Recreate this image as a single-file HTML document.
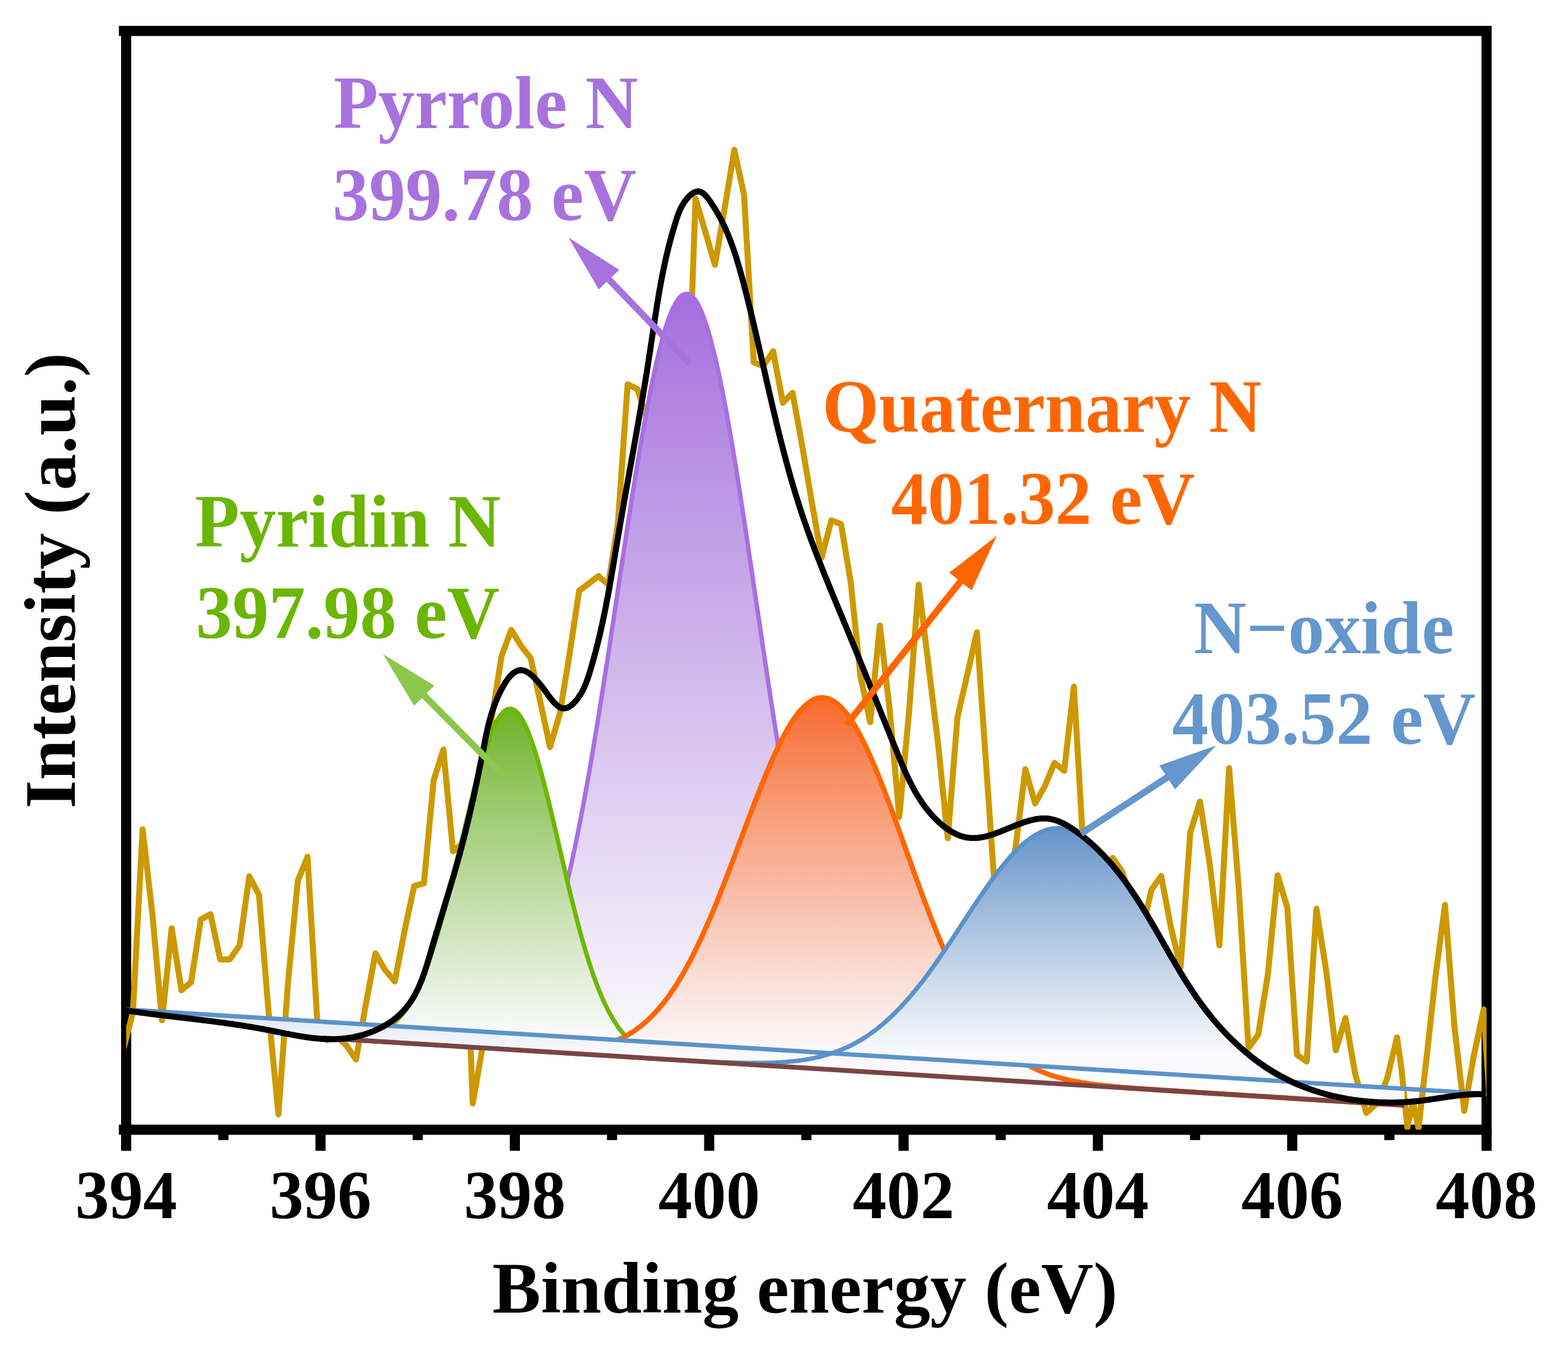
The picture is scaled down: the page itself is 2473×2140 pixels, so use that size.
<!DOCTYPE html><html><head><meta charset="utf-8"><title>XPS N1s</title><style>html,body{margin:0;padding:0;background:#fff;overflow:hidden;width:2473px;height:2140px;}svg{display:block;}text{font-family:"Liberation Serif",serif;font-weight:bold;}</style></head><body>
<svg width="2473" height="2140" viewBox="0 0 2473 2140">
<defs>
<linearGradient id="gp" gradientUnits="userSpaceOnUse" x1="0" y1="463.4" x2="0" y2="1646.9"><stop offset="0.00" stop-color="#A56EDC"/><stop offset="0.10" stop-color="#AE7EDF"/><stop offset="0.20" stop-color="#B78EE3"/><stop offset="0.30" stop-color="#C09CE6"/><stop offset="0.40" stop-color="#C8AAE9"/><stop offset="0.50" stop-color="#D1B8EC"/><stop offset="0.60" stop-color="#D9C6EF"/><stop offset="0.70" stop-color="#E2D3F3"/><stop offset="0.80" stop-color="#EAE0F6"/><stop offset="0.90" stop-color="#F2EDF9"/><stop offset="1.00" stop-color="#FAFAFC"/></linearGradient>
<linearGradient id="gg" gradientUnits="userSpaceOnUse" x1="0" y1="1117.8" x2="0" y2="1629.6"><stop offset="0.00" stop-color="#6CB41E"/><stop offset="0.10" stop-color="#7DBB3E"/><stop offset="0.20" stop-color="#8CC357"/><stop offset="0.30" stop-color="#9BCA6E"/><stop offset="0.40" stop-color="#A9D183"/><stop offset="0.50" stop-color="#B7D898"/><stop offset="0.60" stop-color="#C5DFAD"/><stop offset="0.70" stop-color="#D2E6C1"/><stop offset="0.80" stop-color="#E0EDD5"/><stop offset="0.90" stop-color="#EDF3E9"/><stop offset="1.00" stop-color="#FAFAFC"/></linearGradient>
<linearGradient id="go" gradientUnits="userSpaceOnUse" x1="0" y1="1100.2" x2="0" y2="1660.2"><stop offset="0.00" stop-color="#F8692A"/><stop offset="0.10" stop-color="#F87A47"/><stop offset="0.20" stop-color="#F88A5F"/><stop offset="0.30" stop-color="#F99974"/><stop offset="0.40" stop-color="#F9A889"/><stop offset="0.50" stop-color="#F9B69D"/><stop offset="0.60" stop-color="#F9C4B1"/><stop offset="0.70" stop-color="#F9D2C4"/><stop offset="0.80" stop-color="#FADFD7"/><stop offset="0.90" stop-color="#FAEDE9"/><stop offset="1.00" stop-color="#FAFAFC"/></linearGradient>
<linearGradient id="gb" gradientUnits="userSpaceOnUse" x1="0" y1="1306.2" x2="0" y2="1662.0"><stop offset="0.00" stop-color="#6294CA"/><stop offset="0.10" stop-color="#749FCF"/><stop offset="0.20" stop-color="#85AAD4"/><stop offset="0.30" stop-color="#95B5D9"/><stop offset="0.40" stop-color="#A4BFDE"/><stop offset="0.50" stop-color="#B3C9E3"/><stop offset="0.60" stop-color="#C2D3E8"/><stop offset="0.70" stop-color="#D0DDED"/><stop offset="0.80" stop-color="#DEE7F2"/><stop offset="0.90" stop-color="#ECF0F7"/><stop offset="1.00" stop-color="#FAFAFC"/></linearGradient>
<clipPath id="plot"><rect x="199.0" y="48.8" width="2145.6" height="1732.8"/></clipPath>
</defs>
<rect width="2473" height="2140" fill="#fff"/>
<g fill="none" stroke="#000" stroke-width="16" stroke-linecap="square">
<rect x="199.0" y="48.8" width="2145.6" height="1732.8" stroke-linecap="butt"/>
</g>
<rect x="187.5" y="40.75" width="4" height="16" fill="#000"/>
<rect x="187.5" y="1773.50" width="4" height="16" fill="#000"/>
<g stroke="#000" stroke-width="16"><line x1="199.0" y1="1781.5" x2="199.0" y2="1814.8"/><line x1="352.3" y1="1781.5" x2="352.3" y2="1798.0"/><line x1="505.5" y1="1781.5" x2="505.5" y2="1814.8"/><line x1="658.8" y1="1781.5" x2="658.8" y2="1798.0"/><line x1="812.0" y1="1781.5" x2="812.0" y2="1814.8"/><line x1="965.3" y1="1781.5" x2="965.3" y2="1798.0"/><line x1="1118.5" y1="1781.5" x2="1118.5" y2="1814.8"/><line x1="1271.8" y1="1781.5" x2="1271.8" y2="1798.0"/><line x1="1425.1" y1="1781.5" x2="1425.1" y2="1814.8"/><line x1="1578.3" y1="1781.5" x2="1578.3" y2="1798.0"/><line x1="1731.6" y1="1781.5" x2="1731.6" y2="1814.8"/><line x1="1884.8" y1="1781.5" x2="1884.8" y2="1798.0"/><line x1="2038.1" y1="1781.5" x2="2038.1" y2="1814.8"/><line x1="2191.3" y1="1781.5" x2="2191.3" y2="1798.0"/><line x1="2344.6" y1="1781.5" x2="2344.6" y2="1814.8"/></g>
<g clip-path="url(#plot)">
<path d="M194.3,1655.7 L209.6,1596.5 L224.9,1307.9 L240.2,1440.0 L255.5,1609.1 L270.8,1464.0 L286.1,1561.7 L301.4,1549.0 L316.7,1450.1 L332.0,1441.8 L347.3,1512.9 L362.6,1512.9 L377.9,1490.6 L393.2,1381.9 L408.5,1411.2 L423.8,1598.3 L439.1,1757.4 L454.4,1548.0 L469.7,1388.9 L485.0,1351.2 L500.3,1609.4 L515.6,1640.2 L530.9,1634.6 L546.2,1648.5 L561.5,1670.9 L576.8,1585.0 L592.1,1503.4 L607.4,1529.7 L622.7,1547.8 L638.0,1468.3 L653.3,1397.1 L668.6,1392.9 L683.9,1231.0 L699.2,1182.1 L714.5,1342.6 L729.8,1330.0 L745.6,1740.0 L760.4,1655.0 L775.7,1132.0 L791.0,1034.9 L806.3,993.3 L821.6,1018.3 L836.9,1037.6 L852.2,1106.9 L867.5,1178.2 L882.8,1126.2 L898.1,1033.0 L913.4,931.7 L928.7,920.1 L944.0,908.6 L959.3,922.0 L974.6,825.0 L989.9,606.0 L1005.2,613.5 L1020.5,660.0 L1035.8,700.0 L1051.1,680.0 L1066.4,720.0 L1081.7,740.0 L1097.0,313.2 L1112.3,365.4 L1127.6,417.6 L1142.9,328.5 L1158.2,236.3 L1173.5,307.4 L1188.8,571.4 L1204.1,577.2 L1219.4,554.0 L1234.7,635.2 L1250.0,619.5 L1265.3,703.5 L1280.6,793.3 L1295.9,879.2 L1311.2,820.6 L1326.5,826.5 L1341.8,918.2 L1357.1,1066.6 L1372.4,1138.8 L1387.7,986.5 L1403.0,1117.7 L1418.3,1288.3 L1433.6,1124.0 L1448.9,921.9 L1464.2,1047.4 L1479.5,1172.6 L1494.8,1321.8 L1510.1,1131.1 L1525.4,1064.8 L1540.7,997.2 L1556.0,1216.4 L1571.3,1435.6 L1586.6,1418.9 L1601.9,1335.2 L1617.2,1213.1 L1632.5,1267.0 L1647.8,1240.0 L1663.1,1203.1 L1678.4,1215.6 L1693.7,1082.8 L1709.0,1343.8 L1724.3,1406.0 L1739.6,1390.6 L1754.9,1353.0 L1770.2,1375.0 L1785.5,1421.9 L1800.8,1468.8 L1816.1,1403.1 L1831.4,1381.3 L1846.7,1462.5 L1862.0,1525.0 L1877.3,1312.5 L1892.6,1264.0 L1907.9,1362.0 L1923.2,1491.1 L1938.5,1211.5 L1953.8,1401.8 L1969.1,1652.8 L1984.4,1631.7 L1999.7,1536.5 L2015.0,1380.3 L2030.3,1431.3 L2045.6,1663.4 L2060.9,1674.0 L2076.2,1433.0 L2091.5,1530.0 L2106.8,1656.4 L2122.1,1605.4 L2137.4,1694.0 L2155.0,1755.0 L2172.0,1740.0 L2188.0,1700.0 L2203.3,1636.0 L2210.3,1685.0 L2219.7,1778.0 L2228.5,1738.0 L2237.3,1779.0 L2252.0,1650.0 L2264.0,1540.0 L2279.0,1427.0 L2294.0,1620.0 L2309.4,1752.0 L2324.5,1665.0 L2339.9,1592.0 L2355.2,1820.0" fill="none" stroke="#CC9900" stroke-width="9.5" stroke-linejoin="round"/>
<path d="M510.0,1636.9 L513.0,1637.1 L516.0,1637.3 L519.0,1637.5 L522.0,1637.7 L525.0,1637.9 L528.0,1638.1 L531.0,1638.2 L534.0,1638.4 L537.0,1638.6 L540.1,1638.8 L543.1,1639.0 L546.1,1639.2 L549.1,1639.4 L552.1,1639.5 L555.1,1639.7 L558.1,1639.9 L561.1,1640.1 L564.1,1640.3 L567.1,1640.5 L570.1,1640.7 L573.1,1640.8 L576.1,1641.0 L579.1,1641.2 L582.1,1641.4 L585.1,1641.6 L588.1,1641.8 L591.1,1641.9 L594.1,1642.1 L597.1,1642.3 L600.2,1642.5 L603.2,1642.7 L606.2,1642.8 L609.2,1643.0 L612.2,1643.2 L615.2,1643.4 L618.2,1643.5 L621.2,1643.7 L624.2,1643.9 L627.2,1644.0 L630.2,1644.2 L633.2,1644.4 L636.2,1644.5 L639.2,1644.7 L642.2,1644.8 L645.2,1645.0 L648.2,1645.1 L651.2,1645.3 L654.2,1645.4 L657.2,1645.5 L660.3,1645.6 L663.3,1645.8 L666.3,1645.9 L669.3,1646.0 L672.3,1646.1 L675.3,1646.1 L678.3,1646.2 L681.3,1646.3 L684.3,1646.3 L687.3,1646.3 L690.3,1646.3 L693.3,1646.3 L696.3,1646.3 L699.3,1646.3 L702.3,1646.2 L705.3,1646.1 L708.3,1646.0 L711.3,1645.9 L714.3,1645.7 L717.3,1645.5 L720.4,1645.3 L723.4,1645.0 L726.4,1644.7 L729.4,1644.4 L732.4,1644.0 L735.4,1643.6 L738.4,1643.1 L741.4,1642.5 L744.4,1641.9 L747.4,1641.2 L750.4,1640.5 L753.4,1639.7 L756.4,1638.8 L759.4,1637.8 L762.4,1636.8 L765.4,1635.6 L768.4,1634.4 L771.4,1633.0 L774.4,1631.6 L777.4,1630.0 L780.5,1628.3 L783.5,1626.5 L786.5,1624.5 L789.5,1622.4 L792.5,1620.1 L795.5,1617.7 L798.5,1615.1 L801.5,1612.3 L804.5,1609.4 L807.5,1606.2 L810.5,1602.9 L813.5,1599.3 L816.5,1595.5 L819.5,1591.5 L822.5,1587.3 L825.5,1582.8 L828.5,1578.0 L831.5,1573.0 L834.5,1567.7 L837.6,1562.1 L840.6,1556.2 L843.6,1550.0 L846.6,1543.5 L849.6,1536.7 L852.6,1529.6 L855.6,1522.1 L858.6,1514.2 L861.6,1506.0 L864.6,1497.5 L867.6,1488.5 L870.6,1479.2 L873.6,1469.5 L876.6,1459.4 L879.6,1448.9 L882.6,1438.1 L885.6,1426.8 L888.6,1415.1 L891.6,1403.0 L894.6,1390.5 L897.7,1377.5 L900.7,1364.2 L903.7,1350.5 L906.7,1336.3 L909.7,1321.8 L912.7,1306.8 L915.7,1291.5 L918.7,1275.8 L921.7,1259.7 L924.7,1243.2 L927.7,1226.4 L930.7,1209.3 L933.7,1191.8 L936.7,1173.9 L939.7,1155.8 L942.7,1137.4 L945.7,1118.8 L948.7,1099.9 L951.7,1080.7 L954.7,1061.4 L957.8,1041.9 L960.8,1022.2 L963.8,1002.4 L966.8,982.5 L969.8,962.6 L972.8,942.6 L975.8,922.5 L978.8,902.5 L981.8,882.5 L984.8,862.6 L987.8,842.9 L990.8,823.2 L993.8,803.8 L996.8,784.5 L999.8,765.6 L1002.8,746.8 L1005.8,728.5 L1008.8,710.4 L1011.8,692.8 L1014.8,675.5 L1017.9,658.8 L1020.9,642.5 L1023.9,626.7 L1026.9,611.6 L1029.9,596.9 L1032.9,583.0 L1035.9,569.6 L1038.9,557.0 L1041.9,545.0 L1044.9,533.8 L1047.9,523.3 L1050.9,513.6 L1053.9,504.7 L1056.9,496.7 L1059.9,489.4 L1062.9,483.1 L1065.9,477.6 L1068.9,473.0 L1071.9,469.2 L1074.9,466.4 L1078.0,464.5 L1081.0,463.5 L1084.0,463.5 L1087.0,464.3 L1090.0,466.1 L1093.0,468.8 L1096.0,472.4 L1099.0,476.8 L1102.0,482.2 L1105.0,488.5 L1108.0,495.6 L1111.0,503.6 L1114.0,512.4 L1117.0,522.0 L1120.0,532.4 L1123.0,543.6 L1126.0,555.5 L1129.0,568.2 L1132.0,581.5 L1135.1,595.5 L1138.1,610.2 L1141.1,625.4 L1144.1,641.2 L1147.1,657.6 L1150.1,674.5 L1153.1,691.8 L1156.1,709.6 L1159.1,727.8 L1162.1,746.4 L1165.1,765.3 L1168.1,784.5 L1171.1,804.0 L1174.1,823.7 L1177.1,843.6 L1180.1,863.7 L1183.1,883.9 L1186.1,904.2 L1189.1,924.5 L1192.1,944.9 L1195.2,965.3 L1198.2,985.7 L1201.2,1006.0 L1204.2,1026.3 L1207.2,1046.4 L1210.2,1066.4 L1213.2,1086.2 L1216.2,1105.8 L1219.2,1125.2 L1222.2,1144.4 L1225.2,1163.3 L1228.2,1181.9 L1231.2,1200.3 L1234.2,1218.3 L1237.2,1236.1 L1240.2,1253.4 L1243.2,1270.5 L1246.2,1287.1 L1249.2,1303.5 L1252.2,1319.4 L1255.3,1334.9 L1258.3,1350.1 L1261.3,1364.8 L1264.3,1379.1 L1267.3,1393.1 L1270.3,1406.6 L1273.3,1419.7 L1276.3,1432.4 L1279.3,1444.7 L1282.3,1456.6 L1285.3,1468.1 L1288.3,1479.2 L1291.3,1489.8 L1294.3,1500.1 L1297.3,1510.0 L1300.3,1519.6 L1303.3,1528.7 L1306.3,1537.5 L1309.3,1545.9 L1312.3,1554.0 L1315.4,1561.7 L1318.4,1569.1 L1321.4,1576.1 L1324.4,1582.8 L1327.4,1589.3 L1330.4,1595.4 L1333.4,1601.2 L1336.4,1606.8 L1339.4,1612.0 L1342.4,1617.1 L1345.4,1621.8 L1348.4,1626.3 L1351.4,1630.6 L1354.4,1634.7 L1357.4,1638.5 L1360.4,1642.2 L1363.4,1645.6 L1366.4,1648.8 L1369.4,1651.9 L1372.4,1654.8 L1375.5,1657.5 L1378.5,1660.1 L1381.5,1662.5 L1384.5,1664.8 L1387.5,1666.9 L1390.5,1669.0 L1393.5,1670.9 L1396.5,1672.6 L1399.5,1674.3 L1402.5,1675.9 L1405.5,1677.4 L1408.5,1678.8 L1411.5,1680.1 L1414.5,1681.3 L1417.5,1682.5 L1420.5,1683.5 L1423.5,1684.6 L1426.5,1685.5 L1429.5,1686.4 L1432.6,1687.2 L1435.6,1688.0 L1438.6,1688.8 L1441.6,1689.5 L1444.6,1690.1 L1447.6,1690.8 L1450.6,1691.4 L1453.6,1691.9 L1456.6,1692.4 L1459.6,1692.9 L1462.6,1693.4 L1465.6,1693.9 L1468.6,1694.3 L1471.6,1694.7 L1474.6,1695.1 L1477.6,1695.4 L1480.6,1695.8 L1483.6,1696.1 L1486.6,1696.5 L1489.6,1696.8 L1492.7,1697.1 L1495.7,1697.4 L1498.7,1697.6 L1501.7,1697.9 L1504.7,1698.2 L1507.7,1698.4 L1510.7,1698.7 L1513.7,1698.9 L1516.7,1699.2 L1519.7,1699.4 L1522.7,1699.6 L1525.7,1699.9 L1528.7,1700.1 L1531.7,1700.3 L1534.7,1700.5 L1537.7,1700.7 L1540.7,1700.9 L1543.7,1701.1 L1546.7,1701.3 L1549.7,1701.5 L1552.8,1701.7 L1555.8,1701.9 L1558.8,1702.1 L1561.8,1702.3 L1564.8,1702.5 L1567.8,1702.7 L1570.8,1702.9 L1573.8,1703.1 L1576.8,1703.3 L1579.8,1703.5 L1582.8,1703.7 L1585.8,1703.9 L1588.8,1704.1 L1591.8,1704.3 L1594.8,1704.5 L1597.8,1704.6 L1600.8,1704.8 L1603.8,1705.0 L1606.8,1705.2 L1609.8,1705.4 L1612.9,1705.6 L1615.9,1705.8 L1618.9,1706.0 L1621.9,1706.2 L1624.9,1706.3 L1627.9,1706.5 L1630.9,1706.7 L1633.9,1706.9 L1636.9,1707.1 L1639.9,1707.3 L1642.9,1707.5 L1645.9,1707.7 L1648.9,1707.8 L1651.9,1708.0 L1654.9,1708.2 L1657.9,1708.4 L1660.9,1708.6 L1663.9,1708.8 L1666.9,1709.0 L1669.9,1709.2 L1673.0,1709.3 L1676.0,1709.5 L1679.0,1709.7 L1682.0,1709.9 L1685.0,1710.1 L1688.0,1710.3 L1691.0,1710.5 L1694.0,1710.7 L1697.0,1710.8 L1700.0,1711.0 L1700.0,1711.0 L1697.0,1710.8 L1694.0,1710.7 L1691.0,1710.5 L1688.0,1710.3 L1685.0,1710.1 L1682.0,1709.9 L1679.0,1709.7 L1676.0,1709.5 L1673.0,1709.3 L1669.9,1709.2 L1666.9,1709.0 L1663.9,1708.8 L1660.9,1708.6 L1657.9,1708.4 L1654.9,1708.2 L1651.9,1708.0 L1648.9,1707.8 L1645.9,1707.7 L1642.9,1707.5 L1639.9,1707.3 L1636.9,1707.1 L1633.9,1706.9 L1630.9,1706.7 L1627.9,1706.5 L1624.9,1706.3 L1621.9,1706.2 L1618.9,1706.0 L1615.9,1705.8 L1612.9,1705.6 L1609.8,1705.4 L1606.8,1705.2 L1603.8,1705.0 L1600.8,1704.9 L1597.8,1704.7 L1594.8,1704.5 L1591.8,1704.3 L1588.8,1704.1 L1585.8,1703.9 L1582.8,1703.7 L1579.8,1703.5 L1576.8,1703.4 L1573.8,1703.2 L1570.8,1703.0 L1567.8,1702.8 L1564.8,1702.6 L1561.8,1702.4 L1558.8,1702.2 L1555.8,1702.0 L1552.8,1701.9 L1549.7,1701.7 L1546.7,1701.5 L1543.7,1701.3 L1540.7,1701.1 L1537.7,1700.9 L1534.7,1700.7 L1531.7,1700.5 L1528.7,1700.4 L1525.7,1700.2 L1522.7,1700.0 L1519.7,1699.8 L1516.7,1699.6 L1513.7,1699.4 L1510.7,1699.2 L1507.7,1699.1 L1504.7,1698.9 L1501.7,1698.7 L1498.7,1698.5 L1495.7,1698.3 L1492.7,1698.1 L1489.6,1697.9 L1486.6,1697.7 L1483.6,1697.6 L1480.6,1697.4 L1477.6,1697.2 L1474.6,1697.0 L1471.6,1696.8 L1468.6,1696.6 L1465.6,1696.4 L1462.6,1696.2 L1459.6,1696.1 L1456.6,1695.9 L1453.6,1695.7 L1450.6,1695.5 L1447.6,1695.3 L1444.6,1695.1 L1441.6,1694.9 L1438.6,1694.7 L1435.6,1694.6 L1432.6,1694.4 L1429.5,1694.2 L1426.5,1694.0 L1423.5,1693.8 L1420.5,1693.6 L1417.5,1693.4 L1414.5,1693.3 L1411.5,1693.1 L1408.5,1692.9 L1405.5,1692.7 L1402.5,1692.5 L1399.5,1692.3 L1396.5,1692.1 L1393.5,1691.9 L1390.5,1691.8 L1387.5,1691.6 L1384.5,1691.4 L1381.5,1691.2 L1378.5,1691.0 L1375.5,1690.8 L1372.4,1690.6 L1369.4,1690.4 L1366.4,1690.3 L1363.4,1690.1 L1360.4,1689.9 L1357.4,1689.7 L1354.4,1689.5 L1351.4,1689.3 L1348.4,1689.1 L1345.4,1688.9 L1342.4,1688.8 L1339.4,1688.6 L1336.4,1688.4 L1333.4,1688.2 L1330.4,1688.0 L1327.4,1687.8 L1324.4,1687.6 L1321.4,1687.5 L1318.4,1687.3 L1315.4,1687.1 L1312.3,1686.9 L1309.3,1686.7 L1306.3,1686.5 L1303.3,1686.3 L1300.3,1686.1 L1297.3,1686.0 L1294.3,1685.8 L1291.3,1685.6 L1288.3,1685.4 L1285.3,1685.2 L1282.3,1685.0 L1279.3,1684.8 L1276.3,1684.6 L1273.3,1684.5 L1270.3,1684.3 L1267.3,1684.1 L1264.3,1683.9 L1261.3,1683.7 L1258.3,1683.5 L1255.3,1683.3 L1252.2,1683.1 L1249.2,1683.0 L1246.2,1682.8 L1243.2,1682.6 L1240.2,1682.4 L1237.2,1682.2 L1234.2,1682.0 L1231.2,1681.8 L1228.2,1681.7 L1225.2,1681.5 L1222.2,1681.3 L1219.2,1681.1 L1216.2,1680.9 L1213.2,1680.7 L1210.2,1680.5 L1207.2,1680.3 L1204.2,1680.2 L1201.2,1680.0 L1198.2,1679.8 L1195.2,1679.6 L1192.1,1679.4 L1189.1,1679.2 L1186.1,1679.0 L1183.1,1678.8 L1180.1,1678.7 L1177.1,1678.5 L1174.1,1678.3 L1171.1,1678.1 L1168.1,1677.9 L1165.1,1677.7 L1162.1,1677.5 L1159.1,1677.4 L1156.1,1677.2 L1153.1,1677.0 L1150.1,1676.8 L1147.1,1676.6 L1144.1,1676.4 L1141.1,1676.2 L1138.1,1676.0 L1135.1,1675.9 L1132.0,1675.7 L1129.0,1675.5 L1126.0,1675.3 L1123.0,1675.1 L1120.0,1674.9 L1117.0,1674.7 L1114.0,1674.5 L1111.0,1674.4 L1108.0,1674.2 L1105.0,1674.0 L1102.0,1673.8 L1099.0,1673.6 L1096.0,1673.4 L1093.0,1673.2 L1090.0,1673.0 L1087.0,1672.9 L1084.0,1672.7 L1081.0,1672.5 L1078.0,1672.3 L1074.9,1672.1 L1071.9,1671.9 L1068.9,1671.7 L1065.9,1671.6 L1062.9,1671.4 L1059.9,1671.2 L1056.9,1671.0 L1053.9,1670.8 L1050.9,1670.6 L1047.9,1670.4 L1044.9,1670.2 L1041.9,1670.1 L1038.9,1669.9 L1035.9,1669.7 L1032.9,1669.5 L1029.9,1669.3 L1026.9,1669.1 L1023.9,1668.9 L1020.9,1668.7 L1017.9,1668.6 L1014.8,1668.4 L1011.8,1668.2 L1008.8,1668.0 L1005.8,1667.8 L1002.8,1667.6 L999.8,1667.4 L996.8,1667.2 L993.8,1667.1 L990.8,1666.9 L987.8,1666.7 L984.8,1666.5 L981.8,1666.3 L978.8,1666.1 L975.8,1665.9 L972.8,1665.8 L969.8,1665.6 L966.8,1665.4 L963.8,1665.2 L960.8,1665.0 L957.8,1664.8 L954.7,1664.6 L951.7,1664.4 L948.7,1664.3 L945.7,1664.1 L942.7,1663.9 L939.7,1663.7 L936.7,1663.5 L933.7,1663.3 L930.7,1663.1 L927.7,1662.9 L924.7,1662.8 L921.7,1662.6 L918.7,1662.4 L915.7,1662.2 L912.7,1662.0 L909.7,1661.8 L906.7,1661.6 L903.7,1661.4 L900.7,1661.3 L897.7,1661.1 L894.6,1660.9 L891.6,1660.7 L888.6,1660.5 L885.6,1660.3 L882.6,1660.1 L879.6,1660.0 L876.6,1659.8 L873.6,1659.6 L870.6,1659.4 L867.6,1659.2 L864.6,1659.0 L861.6,1658.8 L858.6,1658.6 L855.6,1658.5 L852.6,1658.3 L849.6,1658.1 L846.6,1657.9 L843.6,1657.7 L840.6,1657.5 L837.6,1657.3 L834.5,1657.1 L831.5,1657.0 L828.5,1656.8 L825.5,1656.6 L822.5,1656.4 L819.5,1656.2 L816.5,1656.0 L813.5,1655.8 L810.5,1655.6 L807.5,1655.5 L804.5,1655.3 L801.5,1655.1 L798.5,1654.9 L795.5,1654.7 L792.5,1654.5 L789.5,1654.3 L786.5,1654.2 L783.5,1654.0 L780.5,1653.8 L777.4,1653.6 L774.4,1653.4 L771.4,1653.2 L768.4,1653.0 L765.4,1652.8 L762.4,1652.7 L759.4,1652.5 L756.4,1652.3 L753.4,1652.1 L750.4,1651.9 L747.4,1651.7 L744.4,1651.5 L741.4,1651.3 L738.4,1651.2 L735.4,1651.0 L732.4,1650.8 L729.4,1650.6 L726.4,1650.4 L723.4,1650.2 L720.4,1650.0 L717.3,1649.8 L714.3,1649.7 L711.3,1649.5 L708.3,1649.3 L705.3,1649.1 L702.3,1648.9 L699.3,1648.7 L696.3,1648.5 L693.3,1648.4 L690.3,1648.2 L687.3,1648.0 L684.3,1647.8 L681.3,1647.6 L678.3,1647.4 L675.3,1647.2 L672.3,1647.0 L669.3,1646.9 L666.3,1646.7 L663.3,1646.5 L660.3,1646.3 L657.2,1646.1 L654.2,1645.9 L651.2,1645.7 L648.2,1645.5 L645.2,1645.4 L642.2,1645.2 L639.2,1645.0 L636.2,1644.8 L633.2,1644.6 L630.2,1644.4 L627.2,1644.2 L624.2,1644.0 L621.2,1643.9 L618.2,1643.7 L615.2,1643.5 L612.2,1643.3 L609.2,1643.1 L606.2,1642.9 L603.2,1642.7 L600.2,1642.6 L597.1,1642.4 L594.1,1642.2 L591.1,1642.0 L588.1,1641.8 L585.1,1641.6 L582.1,1641.4 L579.1,1641.2 L576.1,1641.1 L573.1,1640.9 L570.1,1640.7 L567.1,1640.5 L564.1,1640.3 L561.1,1640.1 L558.1,1639.9 L555.1,1639.7 L552.1,1639.6 L549.1,1639.4 L546.1,1639.2 L543.1,1639.0 L540.1,1638.8 L537.0,1638.6 L534.0,1638.4 L531.0,1638.2 L528.0,1638.1 L525.0,1637.9 L522.0,1637.7 L519.0,1637.5 L516.0,1637.3 L513.0,1637.1 L510.0,1636.9Z" fill="url(#gp)"/>
<path d="M510.0,1636.9 L513.0,1637.1 L516.0,1637.3 L519.0,1637.5 L522.0,1637.7 L525.0,1637.9 L528.0,1638.1 L531.0,1638.2 L534.0,1638.4 L537.0,1638.6 L540.1,1638.8 L543.1,1639.0 L546.1,1639.2 L549.1,1639.4 L552.1,1639.5 L555.1,1639.7 L558.1,1639.9 L561.1,1640.1 L564.1,1640.3 L567.1,1640.5 L570.1,1640.7 L573.1,1640.8 L576.1,1641.0 L579.1,1641.2 L582.1,1641.4 L585.1,1641.6 L588.1,1641.8 L591.1,1641.9 L594.1,1642.1 L597.1,1642.3 L600.2,1642.5 L603.2,1642.7 L606.2,1642.8 L609.2,1643.0 L612.2,1643.2 L615.2,1643.4 L618.2,1643.5 L621.2,1643.7 L624.2,1643.9 L627.2,1644.0 L630.2,1644.2 L633.2,1644.4 L636.2,1644.5 L639.2,1644.7 L642.2,1644.8 L645.2,1645.0 L648.2,1645.1 L651.2,1645.3 L654.2,1645.4 L657.2,1645.5 L660.3,1645.6 L663.3,1645.8 L666.3,1645.9 L669.3,1646.0 L672.3,1646.1 L675.3,1646.1 L678.3,1646.2 L681.3,1646.3 L684.3,1646.3 L687.3,1646.3 L690.3,1646.3 L693.3,1646.3 L696.3,1646.3 L699.3,1646.3 L702.3,1646.2 L705.3,1646.1 L708.3,1646.0 L711.3,1645.9 L714.3,1645.7 L717.3,1645.5 L720.4,1645.3 L723.4,1645.0 L726.4,1644.7 L729.4,1644.4 L732.4,1644.0 L735.4,1643.6 L738.4,1643.1 L741.4,1642.5 L744.4,1641.9 L747.4,1641.2 L750.4,1640.5 L753.4,1639.7 L756.4,1638.8 L759.4,1637.8 L762.4,1636.8 L765.4,1635.6 L768.4,1634.4 L771.4,1633.0 L774.4,1631.6 L777.4,1630.0 L780.5,1628.3 L783.5,1626.5 L786.5,1624.5 L789.5,1622.4 L792.5,1620.1 L795.5,1617.7 L798.5,1615.1 L801.5,1612.3 L804.5,1609.4 L807.5,1606.2 L810.5,1602.9 L813.5,1599.3 L816.5,1595.5 L819.5,1591.5 L822.5,1587.3 L825.5,1582.8 L828.5,1578.0 L831.5,1573.0 L834.5,1567.7 L837.6,1562.1 L840.6,1556.2 L843.6,1550.0 L846.6,1543.5 L849.6,1536.7 L852.6,1529.6 L855.6,1522.1 L858.6,1514.2 L861.6,1506.0 L864.6,1497.5 L867.6,1488.5 L870.6,1479.2 L873.6,1469.5 L876.6,1459.4 L879.6,1448.9 L882.6,1438.1 L885.6,1426.8 L888.6,1415.1 L891.6,1403.0 L894.6,1390.5 L897.7,1377.5 L900.7,1364.2 L903.7,1350.5 L906.7,1336.3 L909.7,1321.8 L912.7,1306.8 L915.7,1291.5 L918.7,1275.8 L921.7,1259.7 L924.7,1243.2 L927.7,1226.4 L930.7,1209.3 L933.7,1191.8 L936.7,1173.9 L939.7,1155.8 L942.7,1137.4 L945.7,1118.8 L948.7,1099.9 L951.7,1080.7 L954.7,1061.4 L957.8,1041.9 L960.8,1022.2 L963.8,1002.4 L966.8,982.5 L969.8,962.6 L972.8,942.6 L975.8,922.5 L978.8,902.5 L981.8,882.5 L984.8,862.6 L987.8,842.9 L990.8,823.2 L993.8,803.8 L996.8,784.5 L999.8,765.6 L1002.8,746.8 L1005.8,728.5 L1008.8,710.4 L1011.8,692.8 L1014.8,675.5 L1017.9,658.8 L1020.9,642.5 L1023.9,626.7 L1026.9,611.6 L1029.9,596.9 L1032.9,583.0 L1035.9,569.6 L1038.9,557.0 L1041.9,545.0 L1044.9,533.8 L1047.9,523.3 L1050.9,513.6 L1053.9,504.7 L1056.9,496.7 L1059.9,489.4 L1062.9,483.1 L1065.9,477.6 L1068.9,473.0 L1071.9,469.2 L1074.9,466.4 L1078.0,464.5 L1081.0,463.5 L1084.0,463.5 L1087.0,464.3 L1090.0,466.1 L1093.0,468.8 L1096.0,472.4 L1099.0,476.8 L1102.0,482.2 L1105.0,488.5 L1108.0,495.6 L1111.0,503.6 L1114.0,512.4 L1117.0,522.0 L1120.0,532.4 L1123.0,543.6 L1126.0,555.5 L1129.0,568.2 L1132.0,581.5 L1135.1,595.5 L1138.1,610.2 L1141.1,625.4 L1144.1,641.2 L1147.1,657.6 L1150.1,674.5 L1153.1,691.8 L1156.1,709.6 L1159.1,727.8 L1162.1,746.4 L1165.1,765.3 L1168.1,784.5 L1171.1,804.0 L1174.1,823.7 L1177.1,843.6 L1180.1,863.7 L1183.1,883.9 L1186.1,904.2 L1189.1,924.5 L1192.1,944.9 L1195.2,965.3 L1198.2,985.7 L1201.2,1006.0 L1204.2,1026.3 L1207.2,1046.4 L1210.2,1066.4 L1213.2,1086.2 L1216.2,1105.8 L1219.2,1125.2 L1222.2,1144.4 L1225.2,1163.3 L1228.2,1181.9 L1231.2,1200.3 L1234.2,1218.3 L1237.2,1236.1 L1240.2,1253.4 L1243.2,1270.5 L1246.2,1287.1 L1249.2,1303.5 L1252.2,1319.4 L1255.3,1334.9 L1258.3,1350.1 L1261.3,1364.8 L1264.3,1379.1 L1267.3,1393.1 L1270.3,1406.6 L1273.3,1419.7 L1276.3,1432.4 L1279.3,1444.7 L1282.3,1456.6 L1285.3,1468.1 L1288.3,1479.2 L1291.3,1489.8 L1294.3,1500.1 L1297.3,1510.0 L1300.3,1519.6 L1303.3,1528.7 L1306.3,1537.5 L1309.3,1545.9 L1312.3,1554.0 L1315.4,1561.7 L1318.4,1569.1 L1321.4,1576.1 L1324.4,1582.8 L1327.4,1589.3 L1330.4,1595.4 L1333.4,1601.2 L1336.4,1606.8 L1339.4,1612.0 L1342.4,1617.1 L1345.4,1621.8 L1348.4,1626.3 L1351.4,1630.6 L1354.4,1634.7 L1357.4,1638.5 L1360.4,1642.2 L1363.4,1645.6 L1366.4,1648.8 L1369.4,1651.9 L1372.4,1654.8 L1375.5,1657.5 L1378.5,1660.1 L1381.5,1662.5 L1384.5,1664.8 L1387.5,1666.9 L1390.5,1669.0 L1393.5,1670.9 L1396.5,1672.6 L1399.5,1674.3 L1402.5,1675.9 L1405.5,1677.4 L1408.5,1678.8 L1411.5,1680.1 L1414.5,1681.3 L1417.5,1682.5 L1420.5,1683.5 L1423.5,1684.6 L1426.5,1685.5 L1429.5,1686.4 L1432.6,1687.2 L1435.6,1688.0 L1438.6,1688.8 L1441.6,1689.5 L1444.6,1690.1 L1447.6,1690.8 L1450.6,1691.4 L1453.6,1691.9 L1456.6,1692.4 L1459.6,1692.9 L1462.6,1693.4 L1465.6,1693.9 L1468.6,1694.3 L1471.6,1694.7 L1474.6,1695.1 L1477.6,1695.4 L1480.6,1695.8 L1483.6,1696.1 L1486.6,1696.5 L1489.6,1696.8 L1492.7,1697.1 L1495.7,1697.4 L1498.7,1697.6 L1501.7,1697.9 L1504.7,1698.2 L1507.7,1698.4 L1510.7,1698.7 L1513.7,1698.9 L1516.7,1699.2 L1519.7,1699.4 L1522.7,1699.6 L1525.7,1699.9 L1528.7,1700.1 L1531.7,1700.3 L1534.7,1700.5 L1537.7,1700.7 L1540.7,1700.9 L1543.7,1701.1 L1546.7,1701.3 L1549.7,1701.5 L1552.8,1701.7 L1555.8,1701.9 L1558.8,1702.1 L1561.8,1702.3 L1564.8,1702.5 L1567.8,1702.7 L1570.8,1702.9 L1573.8,1703.1 L1576.8,1703.3 L1579.8,1703.5 L1582.8,1703.7 L1585.8,1703.9 L1588.8,1704.1 L1591.8,1704.3 L1594.8,1704.5 L1597.8,1704.6 L1600.8,1704.8 L1603.8,1705.0 L1606.8,1705.2 L1609.8,1705.4 L1612.9,1705.6 L1615.9,1705.8 L1618.9,1706.0 L1621.9,1706.2 L1624.9,1706.3 L1627.9,1706.5 L1630.9,1706.7 L1633.9,1706.9 L1636.9,1707.1 L1639.9,1707.3 L1642.9,1707.5 L1645.9,1707.7 L1648.9,1707.8 L1651.9,1708.0 L1654.9,1708.2 L1657.9,1708.4 L1660.9,1708.6 L1663.9,1708.8 L1666.9,1709.0 L1669.9,1709.2 L1673.0,1709.3 L1676.0,1709.5 L1679.0,1709.7 L1682.0,1709.9 L1685.0,1710.1 L1688.0,1710.3 L1691.0,1710.5 L1694.0,1710.7 L1697.0,1710.8 L1700.0,1711.0" fill="none" stroke="#A86FE2" stroke-width="7"/>
<path d="M510.0,1636.6 L513.0,1636.7 L516.0,1636.9 L519.0,1637.0 L522.0,1637.1 L525.0,1637.2 L528.0,1637.3 L531.0,1637.3 L534.0,1637.4 L537.0,1637.4 L540.0,1637.4 L543.0,1637.4 L546.0,1637.4 L549.0,1637.3 L552.1,1637.2 L555.1,1637.1 L558.1,1636.9 L561.1,1636.7 L564.1,1636.4 L567.1,1636.1 L570.1,1635.8 L573.1,1635.3 L576.1,1634.8 L579.1,1634.2 L582.1,1633.6 L585.1,1632.8 L588.1,1632.0 L591.1,1631.0 L594.1,1630.0 L597.1,1628.8 L600.1,1627.4 L603.1,1626.0 L606.1,1624.3 L609.1,1622.6 L612.1,1620.6 L615.1,1618.5 L618.1,1616.1 L621.1,1613.6 L624.1,1610.8 L627.1,1607.8 L630.2,1604.5 L633.2,1601.0 L636.2,1597.3 L639.2,1593.2 L642.2,1588.9 L645.2,1584.2 L648.2,1579.3 L651.2,1574.0 L654.2,1568.3 L657.2,1562.4 L660.2,1556.1 L663.2,1549.4 L666.2,1542.4 L669.2,1535.0 L672.2,1527.2 L675.2,1519.1 L678.2,1510.6 L681.2,1501.7 L684.2,1492.5 L687.2,1483.0 L690.2,1473.0 L693.2,1462.8 L696.2,1452.2 L699.2,1441.4 L702.2,1430.2 L705.2,1418.8 L708.3,1407.1 L711.3,1395.2 L714.3,1383.1 L717.3,1370.8 L720.3,1358.5 L723.3,1346.0 L726.3,1333.4 L729.3,1320.8 L732.3,1308.3 L735.3,1295.8 L738.3,1283.3 L741.3,1271.1 L744.3,1259.0 L747.3,1247.1 L750.3,1235.5 L753.3,1224.2 L756.3,1213.2 L759.3,1202.7 L762.3,1192.6 L765.3,1183.0 L768.3,1173.9 L771.3,1165.3 L774.3,1157.4 L777.3,1150.2 L780.3,1143.5 L783.3,1137.6 L786.3,1132.5 L789.4,1128.0 L792.4,1124.4 L795.4,1121.5 L798.4,1119.4 L801.4,1118.2 L804.4,1117.8 L807.4,1118.2 L810.4,1119.4 L813.4,1121.4 L816.4,1124.3 L819.4,1127.9 L822.4,1132.4 L825.4,1137.6 L828.4,1143.5 L831.4,1150.1 L834.4,1157.5 L837.4,1165.5 L840.4,1174.1 L843.4,1183.3 L846.4,1193.0 L849.4,1203.2 L852.4,1213.9 L855.4,1225.1 L858.4,1236.6 L861.4,1248.4 L864.4,1260.6 L867.5,1272.9 L870.5,1285.5 L873.5,1298.2 L876.5,1311.1 L879.5,1324.0 L882.5,1337.0 L885.5,1349.9 L888.5,1362.8 L891.5,1375.6 L894.5,1388.3 L897.5,1400.9 L900.5,1413.2 L903.5,1425.4 L906.5,1437.3 L909.5,1449.0 L912.5,1460.4 L915.5,1471.5 L918.5,1482.2 L921.5,1492.7 L924.5,1502.8 L927.5,1512.6 L930.5,1522.0 L933.5,1531.0 L936.5,1539.7 L939.5,1548.0 L942.5,1556.0 L945.6,1563.5 L948.6,1570.8 L951.6,1577.6 L954.6,1584.1 L957.6,1590.3 L960.6,1596.1 L963.6,1601.6 L966.6,1606.8 L969.6,1611.6 L972.6,1616.2 L975.6,1620.5 L978.6,1624.5 L981.6,1628.2 L984.6,1631.7 L987.6,1635.0 L990.6,1638.0 L993.6,1640.8 L996.6,1643.4 L999.6,1645.9 L1002.6,1648.1 L1005.6,1650.2 L1008.6,1652.1 L1011.6,1653.9 L1014.6,1655.5 L1017.6,1657.0 L1020.6,1658.4 L1023.7,1659.6 L1026.7,1660.8 L1029.7,1661.9 L1032.7,1662.9 L1035.7,1663.8 L1038.7,1664.6 L1041.7,1665.4 L1044.7,1666.1 L1047.7,1666.8 L1050.7,1667.4 L1053.7,1668.0 L1056.7,1668.5 L1059.7,1669.0 L1062.7,1669.4 L1065.7,1669.9 L1068.7,1670.3 L1071.7,1670.6 L1074.7,1671.0 L1077.7,1671.3 L1080.7,1671.6 L1083.7,1671.9 L1086.7,1672.2 L1089.7,1672.5 L1092.7,1672.7 L1095.7,1673.0 L1098.7,1673.2 L1101.7,1673.5 L1104.8,1673.7 L1107.8,1673.9 L1110.8,1674.1 L1113.8,1674.4 L1116.8,1674.6 L1119.8,1674.8 L1122.8,1675.0 L1125.8,1675.2 L1128.8,1675.4 L1131.8,1675.6 L1134.8,1675.8 L1137.8,1676.0 L1140.8,1676.2 L1143.8,1676.4 L1146.8,1676.6 L1149.8,1676.8 L1152.8,1676.9 L1155.8,1677.1 L1158.8,1677.3 L1161.8,1677.5 L1164.8,1677.7 L1167.8,1677.9 L1170.8,1678.1 L1173.8,1678.3 L1176.8,1678.5 L1179.8,1678.6 L1182.9,1678.8 L1185.9,1679.0 L1188.9,1679.2 L1191.9,1679.4 L1194.9,1679.6 L1197.9,1679.8 L1200.9,1680.0 L1203.9,1680.1 L1206.9,1680.3 L1209.9,1680.5 L1212.9,1680.7 L1215.9,1680.9 L1218.9,1681.1 L1221.9,1681.3 L1224.9,1681.4 L1227.9,1681.6 L1230.9,1681.8 L1233.9,1682.0 L1236.9,1682.2 L1239.9,1682.4 L1242.9,1682.6 L1245.9,1682.8 L1248.9,1682.9 L1251.9,1683.1 L1254.9,1683.3 L1257.9,1683.5 L1261.0,1683.7 L1264.0,1683.9 L1267.0,1684.1 L1270.0,1684.3 L1273.0,1684.4 L1276.0,1684.6 L1279.0,1684.8 L1282.0,1685.0 L1285.0,1685.2 L1288.0,1685.4 L1291.0,1685.6 L1294.0,1685.7 L1297.0,1685.9 L1300.0,1686.1 L1300.0,1686.1 L1297.0,1685.9 L1294.0,1685.7 L1291.0,1685.6 L1288.0,1685.4 L1285.0,1685.2 L1282.0,1685.0 L1279.0,1684.8 L1276.0,1684.6 L1273.0,1684.4 L1270.0,1684.3 L1267.0,1684.1 L1264.0,1683.9 L1261.0,1683.7 L1257.9,1683.5 L1254.9,1683.3 L1251.9,1683.1 L1248.9,1682.9 L1245.9,1682.8 L1242.9,1682.6 L1239.9,1682.4 L1236.9,1682.2 L1233.9,1682.0 L1230.9,1681.8 L1227.9,1681.6 L1224.9,1681.4 L1221.9,1681.3 L1218.9,1681.1 L1215.9,1680.9 L1212.9,1680.7 L1209.9,1680.5 L1206.9,1680.3 L1203.9,1680.1 L1200.9,1680.0 L1197.9,1679.8 L1194.9,1679.6 L1191.9,1679.4 L1188.9,1679.2 L1185.9,1679.0 L1182.9,1678.8 L1179.8,1678.6 L1176.8,1678.5 L1173.8,1678.3 L1170.8,1678.1 L1167.8,1677.9 L1164.8,1677.7 L1161.8,1677.5 L1158.8,1677.3 L1155.8,1677.1 L1152.8,1677.0 L1149.8,1676.8 L1146.8,1676.6 L1143.8,1676.4 L1140.8,1676.2 L1137.8,1676.0 L1134.8,1675.8 L1131.8,1675.7 L1128.8,1675.5 L1125.8,1675.3 L1122.8,1675.1 L1119.8,1674.9 L1116.8,1674.7 L1113.8,1674.5 L1110.8,1674.3 L1107.8,1674.2 L1104.8,1674.0 L1101.7,1673.8 L1098.7,1673.6 L1095.7,1673.4 L1092.7,1673.2 L1089.7,1673.0 L1086.7,1672.8 L1083.7,1672.7 L1080.7,1672.5 L1077.7,1672.3 L1074.7,1672.1 L1071.7,1671.9 L1068.7,1671.7 L1065.7,1671.5 L1062.7,1671.3 L1059.7,1671.2 L1056.7,1671.0 L1053.7,1670.8 L1050.7,1670.6 L1047.7,1670.4 L1044.7,1670.2 L1041.7,1670.0 L1038.7,1669.9 L1035.7,1669.7 L1032.7,1669.5 L1029.7,1669.3 L1026.7,1669.1 L1023.7,1668.9 L1020.6,1668.7 L1017.6,1668.5 L1014.6,1668.4 L1011.6,1668.2 L1008.6,1668.0 L1005.6,1667.8 L1002.6,1667.6 L999.6,1667.4 L996.6,1667.2 L993.6,1667.0 L990.6,1666.9 L987.6,1666.7 L984.6,1666.5 L981.6,1666.3 L978.6,1666.1 L975.6,1665.9 L972.6,1665.7 L969.6,1665.6 L966.6,1665.4 L963.6,1665.2 L960.6,1665.0 L957.6,1664.8 L954.6,1664.6 L951.6,1664.4 L948.6,1664.2 L945.6,1664.1 L942.5,1663.9 L939.5,1663.7 L936.5,1663.5 L933.5,1663.3 L930.5,1663.1 L927.5,1662.9 L924.5,1662.7 L921.5,1662.6 L918.5,1662.4 L915.5,1662.2 L912.5,1662.0 L909.5,1661.8 L906.5,1661.6 L903.5,1661.4 L900.5,1661.2 L897.5,1661.1 L894.5,1660.9 L891.5,1660.7 L888.5,1660.5 L885.5,1660.3 L882.5,1660.1 L879.5,1659.9 L876.5,1659.8 L873.5,1659.6 L870.5,1659.4 L867.5,1659.2 L864.4,1659.0 L861.4,1658.8 L858.4,1658.6 L855.4,1658.4 L852.4,1658.3 L849.4,1658.1 L846.4,1657.9 L843.4,1657.7 L840.4,1657.5 L837.4,1657.3 L834.4,1657.1 L831.4,1656.9 L828.4,1656.8 L825.4,1656.6 L822.4,1656.4 L819.4,1656.2 L816.4,1656.0 L813.4,1655.8 L810.4,1655.6 L807.4,1655.5 L804.4,1655.3 L801.4,1655.1 L798.4,1654.9 L795.4,1654.7 L792.4,1654.5 L789.4,1654.3 L786.3,1654.1 L783.3,1654.0 L780.3,1653.8 L777.3,1653.6 L774.3,1653.4 L771.3,1653.2 L768.3,1653.0 L765.3,1652.8 L762.3,1652.6 L759.3,1652.5 L756.3,1652.3 L753.3,1652.1 L750.3,1651.9 L747.3,1651.7 L744.3,1651.5 L741.3,1651.3 L738.3,1651.2 L735.3,1651.0 L732.3,1650.8 L729.3,1650.6 L726.3,1650.4 L723.3,1650.2 L720.3,1650.0 L717.3,1649.8 L714.3,1649.7 L711.3,1649.5 L708.3,1649.3 L705.2,1649.1 L702.2,1648.9 L699.2,1648.7 L696.2,1648.5 L693.2,1648.3 L690.2,1648.2 L687.2,1648.0 L684.2,1647.8 L681.2,1647.6 L678.2,1647.4 L675.2,1647.2 L672.2,1647.0 L669.2,1646.8 L666.2,1646.7 L663.2,1646.5 L660.2,1646.3 L657.2,1646.1 L654.2,1645.9 L651.2,1645.7 L648.2,1645.5 L645.2,1645.4 L642.2,1645.2 L639.2,1645.0 L636.2,1644.8 L633.2,1644.6 L630.2,1644.4 L627.1,1644.2 L624.1,1644.0 L621.1,1643.9 L618.1,1643.7 L615.1,1643.5 L612.1,1643.3 L609.1,1643.1 L606.1,1642.9 L603.1,1642.7 L600.1,1642.5 L597.1,1642.4 L594.1,1642.2 L591.1,1642.0 L588.1,1641.8 L585.1,1641.6 L582.1,1641.4 L579.1,1641.2 L576.1,1641.1 L573.1,1640.9 L570.1,1640.7 L567.1,1640.5 L564.1,1640.3 L561.1,1640.1 L558.1,1639.9 L555.1,1639.7 L552.1,1639.6 L549.0,1639.4 L546.0,1639.2 L543.0,1639.0 L540.0,1638.8 L537.0,1638.6 L534.0,1638.4 L531.0,1638.2 L528.0,1638.1 L525.0,1637.9 L522.0,1637.7 L519.0,1637.5 L516.0,1637.3 L513.0,1637.1 L510.0,1636.9Z" fill="url(#gg)"/>
<path d="M510.0,1636.6 L513.0,1636.7 L516.0,1636.9 L519.0,1637.0 L522.0,1637.1 L525.0,1637.2 L528.0,1637.3 L531.0,1637.3 L534.0,1637.4 L537.0,1637.4 L540.0,1637.4 L543.0,1637.4 L546.0,1637.4 L549.0,1637.3 L552.1,1637.2 L555.1,1637.1 L558.1,1636.9 L561.1,1636.7 L564.1,1636.4 L567.1,1636.1 L570.1,1635.8 L573.1,1635.3 L576.1,1634.8 L579.1,1634.2 L582.1,1633.6 L585.1,1632.8 L588.1,1632.0 L591.1,1631.0 L594.1,1630.0 L597.1,1628.8 L600.1,1627.4 L603.1,1626.0 L606.1,1624.3 L609.1,1622.6 L612.1,1620.6 L615.1,1618.5 L618.1,1616.1 L621.1,1613.6 L624.1,1610.8 L627.1,1607.8 L630.2,1604.5 L633.2,1601.0 L636.2,1597.3 L639.2,1593.2 L642.2,1588.9 L645.2,1584.2 L648.2,1579.3 L651.2,1574.0 L654.2,1568.3 L657.2,1562.4 L660.2,1556.1 L663.2,1549.4 L666.2,1542.4 L669.2,1535.0 L672.2,1527.2 L675.2,1519.1 L678.2,1510.6 L681.2,1501.7 L684.2,1492.5 L687.2,1483.0 L690.2,1473.0 L693.2,1462.8 L696.2,1452.2 L699.2,1441.4 L702.2,1430.2 L705.2,1418.8 L708.3,1407.1 L711.3,1395.2 L714.3,1383.1 L717.3,1370.8 L720.3,1358.5 L723.3,1346.0 L726.3,1333.4 L729.3,1320.8 L732.3,1308.3 L735.3,1295.8 L738.3,1283.3 L741.3,1271.1 L744.3,1259.0 L747.3,1247.1 L750.3,1235.5 L753.3,1224.2 L756.3,1213.2 L759.3,1202.7 L762.3,1192.6 L765.3,1183.0 L768.3,1173.9 L771.3,1165.3 L774.3,1157.4 L777.3,1150.2 L780.3,1143.5 L783.3,1137.6 L786.3,1132.5 L789.4,1128.0 L792.4,1124.4 L795.4,1121.5 L798.4,1119.4 L801.4,1118.2 L804.4,1117.8 L807.4,1118.2 L810.4,1119.4 L813.4,1121.4 L816.4,1124.3 L819.4,1127.9 L822.4,1132.4 L825.4,1137.6 L828.4,1143.5 L831.4,1150.1 L834.4,1157.5 L837.4,1165.5 L840.4,1174.1 L843.4,1183.3 L846.4,1193.0 L849.4,1203.2 L852.4,1213.9 L855.4,1225.1 L858.4,1236.6 L861.4,1248.4 L864.4,1260.6 L867.5,1272.9 L870.5,1285.5 L873.5,1298.2 L876.5,1311.1 L879.5,1324.0 L882.5,1337.0 L885.5,1349.9 L888.5,1362.8 L891.5,1375.6 L894.5,1388.3 L897.5,1400.9 L900.5,1413.2 L903.5,1425.4 L906.5,1437.3 L909.5,1449.0 L912.5,1460.4 L915.5,1471.5 L918.5,1482.2 L921.5,1492.7 L924.5,1502.8 L927.5,1512.6 L930.5,1522.0 L933.5,1531.0 L936.5,1539.7 L939.5,1548.0 L942.5,1556.0 L945.6,1563.5 L948.6,1570.8 L951.6,1577.6 L954.6,1584.1 L957.6,1590.3 L960.6,1596.1 L963.6,1601.6 L966.6,1606.8 L969.6,1611.6 L972.6,1616.2 L975.6,1620.5 L978.6,1624.5 L981.6,1628.2 L984.6,1631.7 L987.6,1635.0 L990.6,1638.0 L993.6,1640.8 L996.6,1643.4 L999.6,1645.9 L1002.6,1648.1 L1005.6,1650.2 L1008.6,1652.1 L1011.6,1653.9 L1014.6,1655.5 L1017.6,1657.0 L1020.6,1658.4 L1023.7,1659.6 L1026.7,1660.8 L1029.7,1661.9 L1032.7,1662.9 L1035.7,1663.8 L1038.7,1664.6 L1041.7,1665.4 L1044.7,1666.1 L1047.7,1666.8 L1050.7,1667.4 L1053.7,1668.0 L1056.7,1668.5 L1059.7,1669.0 L1062.7,1669.4 L1065.7,1669.9 L1068.7,1670.3 L1071.7,1670.6 L1074.7,1671.0 L1077.7,1671.3 L1080.7,1671.6 L1083.7,1671.9 L1086.7,1672.2 L1089.7,1672.5 L1092.7,1672.7 L1095.7,1673.0 L1098.7,1673.2 L1101.7,1673.5 L1104.8,1673.7 L1107.8,1673.9 L1110.8,1674.1 L1113.8,1674.4 L1116.8,1674.6 L1119.8,1674.8 L1122.8,1675.0 L1125.8,1675.2 L1128.8,1675.4 L1131.8,1675.6 L1134.8,1675.8 L1137.8,1676.0 L1140.8,1676.2 L1143.8,1676.4 L1146.8,1676.6 L1149.8,1676.8 L1152.8,1676.9 L1155.8,1677.1 L1158.8,1677.3 L1161.8,1677.5 L1164.8,1677.7 L1167.8,1677.9 L1170.8,1678.1 L1173.8,1678.3 L1176.8,1678.5 L1179.8,1678.6 L1182.9,1678.8 L1185.9,1679.0 L1188.9,1679.2 L1191.9,1679.4 L1194.9,1679.6 L1197.9,1679.8 L1200.9,1680.0 L1203.9,1680.1 L1206.9,1680.3 L1209.9,1680.5 L1212.9,1680.7 L1215.9,1680.9 L1218.9,1681.1 L1221.9,1681.3 L1224.9,1681.4 L1227.9,1681.6 L1230.9,1681.8 L1233.9,1682.0 L1236.9,1682.2 L1239.9,1682.4 L1242.9,1682.6 L1245.9,1682.8 L1248.9,1682.9 L1251.9,1683.1 L1254.9,1683.3 L1257.9,1683.5 L1261.0,1683.7 L1264.0,1683.9 L1267.0,1684.1 L1270.0,1684.3 L1273.0,1684.4 L1276.0,1684.6 L1279.0,1684.8 L1282.0,1685.0 L1285.0,1685.2 L1288.0,1685.4 L1291.0,1685.6 L1294.0,1685.7 L1297.0,1685.9 L1300.0,1686.1" fill="none" stroke="#6CB800" stroke-width="7"/>
<path d="M800.0,1654.6 L803.0,1654.8 L806.0,1654.9 L809.0,1655.1 L812.0,1655.2 L815.0,1655.4 L818.0,1655.5 L821.0,1655.6 L824.0,1655.8 L827.0,1655.9 L830.0,1656.0 L833.0,1656.1 L836.1,1656.2 L839.1,1656.3 L842.1,1656.4 L845.1,1656.5 L848.1,1656.6 L851.1,1656.6 L854.1,1656.7 L857.1,1656.7 L860.1,1656.8 L863.1,1656.8 L866.1,1656.8 L869.1,1656.8 L872.1,1656.8 L875.1,1656.8 L878.1,1656.8 L881.1,1656.7 L884.1,1656.7 L887.1,1656.6 L890.1,1656.5 L893.1,1656.3 L896.1,1656.2 L899.1,1656.0 L902.1,1655.8 L905.1,1655.6 L908.2,1655.4 L911.2,1655.1 L914.2,1654.8 L917.2,1654.5 L920.2,1654.1 L923.2,1653.7 L926.2,1653.3 L929.2,1652.8 L932.2,1652.3 L935.2,1651.8 L938.2,1651.2 L941.2,1650.6 L944.2,1649.9 L947.2,1649.1 L950.2,1648.4 L953.2,1647.5 L956.2,1646.7 L959.2,1645.7 L962.2,1644.7 L965.2,1643.6 L968.2,1642.5 L971.2,1641.3 L974.2,1640.0 L977.3,1638.7 L980.3,1637.3 L983.3,1635.8 L986.3,1634.2 L989.3,1632.5 L992.3,1630.8 L995.3,1629.0 L998.3,1627.0 L1001.3,1625.0 L1004.3,1622.9 L1007.3,1620.7 L1010.3,1618.4 L1013.3,1615.9 L1016.3,1613.4 L1019.3,1610.8 L1022.3,1608.0 L1025.3,1605.2 L1028.3,1602.2 L1031.3,1599.1 L1034.3,1595.8 L1037.3,1592.5 L1040.3,1589.0 L1043.3,1585.4 L1046.3,1581.7 L1049.4,1577.8 L1052.4,1573.8 L1055.4,1569.7 L1058.4,1565.4 L1061.4,1561.0 L1064.4,1556.5 L1067.4,1551.8 L1070.4,1546.9 L1073.4,1542.0 L1076.4,1536.9 L1079.4,1531.6 L1082.4,1526.2 L1085.4,1520.7 L1088.4,1515.1 L1091.4,1509.3 L1094.4,1503.3 L1097.4,1497.3 L1100.4,1491.1 L1103.4,1484.7 L1106.4,1478.3 L1109.4,1471.7 L1112.4,1465.0 L1115.4,1458.2 L1118.5,1451.2 L1121.5,1444.2 L1124.5,1437.0 L1127.5,1429.7 L1130.5,1422.4 L1133.5,1414.9 L1136.5,1407.4 L1139.5,1399.8 L1142.5,1392.1 L1145.5,1384.3 L1148.5,1376.5 L1151.5,1368.6 L1154.5,1360.7 L1157.5,1352.8 L1160.5,1344.8 L1163.5,1336.8 L1166.5,1328.7 L1169.5,1320.7 L1172.5,1312.7 L1175.5,1304.6 L1178.5,1296.6 L1181.5,1288.7 L1184.5,1280.7 L1187.5,1272.8 L1190.6,1265.0 L1193.6,1257.3 L1196.6,1249.6 L1199.6,1242.0 L1202.6,1234.5 L1205.6,1227.1 L1208.6,1219.8 L1211.6,1212.7 L1214.6,1205.7 L1217.6,1198.8 L1220.6,1192.1 L1223.6,1185.6 L1226.6,1179.2 L1229.6,1173.1 L1232.6,1167.1 L1235.6,1161.3 L1238.6,1155.8 L1241.6,1150.5 L1244.6,1145.4 L1247.6,1140.5 L1250.6,1135.9 L1253.6,1131.5 L1256.6,1127.4 L1259.6,1123.6 L1262.7,1120.0 L1265.7,1116.7 L1268.7,1113.7 L1271.7,1111.0 L1274.7,1108.6 L1277.7,1106.5 L1280.7,1104.6 L1283.7,1103.1 L1286.7,1101.9 L1289.7,1101.0 L1292.7,1100.4 L1295.7,1100.2 L1298.7,1100.2 L1301.7,1100.6 L1304.7,1101.2 L1307.7,1102.2 L1310.7,1103.5 L1313.7,1105.1 L1316.7,1107.0 L1319.7,1109.2 L1322.7,1111.7 L1325.7,1114.6 L1328.7,1117.7 L1331.8,1121.1 L1334.8,1124.7 L1337.8,1128.7 L1340.8,1132.9 L1343.8,1137.4 L1346.8,1142.2 L1349.8,1147.2 L1352.8,1152.5 L1355.8,1157.9 L1358.8,1163.7 L1361.8,1169.6 L1364.8,1175.8 L1367.8,1182.1 L1370.8,1188.7 L1373.8,1195.4 L1376.8,1202.3 L1379.8,1209.4 L1382.8,1216.7 L1385.8,1224.0 L1388.8,1231.6 L1391.8,1239.2 L1394.8,1247.0 L1397.8,1254.9 L1400.8,1262.8 L1403.9,1270.9 L1406.9,1279.0 L1409.9,1287.2 L1412.9,1295.5 L1415.9,1303.8 L1418.9,1312.2 L1421.9,1320.5 L1424.9,1328.9 L1427.9,1337.4 L1430.9,1345.8 L1433.9,1354.2 L1436.9,1362.6 L1439.9,1370.9 L1442.9,1379.3 L1445.9,1387.5 L1448.9,1395.8 L1451.9,1404.0 L1454.9,1412.1 L1457.9,1420.2 L1460.9,1428.1 L1463.9,1436.0 L1466.9,1443.9 L1469.9,1451.6 L1473.0,1459.2 L1476.0,1466.7 L1479.0,1474.2 L1482.0,1481.5 L1485.0,1488.7 L1488.0,1495.7 L1491.0,1502.7 L1494.0,1509.5 L1497.0,1516.2 L1500.0,1522.8 L1503.0,1529.2 L1506.0,1535.5 L1509.0,1541.7 L1512.0,1547.7 L1515.0,1553.6 L1518.0,1559.3 L1521.0,1564.9 L1524.0,1570.4 L1527.0,1575.7 L1530.0,1580.9 L1533.0,1586.0 L1536.0,1590.9 L1539.0,1595.7 L1542.0,1600.3 L1545.1,1604.8 L1548.1,1609.2 L1551.1,1613.4 L1554.1,1617.5 L1557.1,1621.5 L1560.1,1625.3 L1563.1,1629.0 L1566.1,1632.6 L1569.1,1636.1 L1572.1,1639.4 L1575.1,1642.7 L1578.1,1645.8 L1581.1,1648.8 L1584.1,1651.7 L1587.1,1654.5 L1590.1,1657.1 L1593.1,1659.7 L1596.1,1662.2 L1599.1,1664.6 L1602.1,1666.9 L1605.1,1669.1 L1608.1,1671.2 L1611.1,1673.2 L1614.2,1675.2 L1617.2,1677.0 L1620.2,1678.8 L1623.2,1680.5 L1626.2,1682.2 L1629.2,1683.7 L1632.2,1685.2 L1635.2,1686.7 L1638.2,1688.1 L1641.2,1689.4 L1644.2,1690.6 L1647.2,1691.8 L1650.2,1693.0 L1653.2,1694.1 L1656.2,1695.1 L1659.2,1696.1 L1662.2,1697.1 L1665.2,1698.0 L1668.2,1698.9 L1671.2,1699.7 L1674.2,1700.5 L1677.2,1701.3 L1680.2,1702.0 L1683.2,1702.7 L1686.3,1703.4 L1689.3,1704.0 L1692.3,1704.7 L1695.3,1705.2 L1698.3,1705.8 L1701.3,1706.3 L1704.3,1706.9 L1707.3,1707.4 L1710.3,1707.8 L1713.3,1708.3 L1716.3,1708.7 L1719.3,1709.2 L1722.3,1709.6 L1725.3,1710.0 L1728.3,1710.3 L1731.3,1710.7 L1734.3,1711.1 L1737.3,1711.4 L1740.3,1711.7 L1743.3,1712.1 L1746.3,1712.4 L1749.3,1712.7 L1752.3,1713.0 L1755.4,1713.3 L1758.4,1713.6 L1761.4,1713.8 L1764.4,1714.1 L1767.4,1714.4 L1770.4,1714.6 L1773.4,1714.9 L1776.4,1715.1 L1779.4,1715.4 L1782.4,1715.6 L1785.4,1715.8 L1788.4,1716.1 L1791.4,1716.3 L1794.4,1716.5 L1797.4,1716.7 L1800.4,1716.9 L1803.4,1717.2 L1806.4,1717.4 L1809.4,1717.6 L1812.4,1717.8 L1815.4,1718.0 L1818.4,1718.2 L1821.4,1718.4 L1824.4,1718.6 L1827.5,1718.8 L1830.5,1719.0 L1833.5,1719.2 L1836.5,1719.4 L1839.5,1719.6 L1842.5,1719.8 L1845.5,1720.0 L1848.5,1720.2 L1851.5,1720.4 L1854.5,1720.6 L1857.5,1720.8 L1860.5,1721.0 L1863.5,1721.2 L1866.5,1721.4 L1869.5,1721.5 L1872.5,1721.7 L1875.5,1721.9 L1878.5,1722.1 L1881.5,1722.3 L1884.5,1722.5 L1887.5,1722.7 L1890.5,1722.9 L1893.5,1723.1 L1896.5,1723.2 L1899.6,1723.4 L1902.6,1723.6 L1905.6,1723.8 L1908.6,1724.0 L1911.6,1724.2 L1914.6,1724.4 L1917.6,1724.6 L1920.6,1724.8 L1923.6,1724.9 L1926.6,1725.1 L1929.6,1725.3 L1932.6,1725.5 L1935.6,1725.7 L1938.6,1725.9 L1941.6,1726.1 L1944.6,1726.3 L1947.6,1726.4 L1950.6,1726.6 L1953.6,1726.8 L1956.6,1727.0 L1959.6,1727.2 L1962.6,1727.4 L1965.6,1727.6 L1968.7,1727.8 L1971.7,1727.9 L1974.7,1728.1 L1977.7,1728.3 L1980.7,1728.5 L1983.7,1728.7 L1986.7,1728.9 L1989.7,1729.1 L1992.7,1729.2 L1995.7,1729.4 L1998.7,1729.6 L2001.7,1729.8 L2004.7,1730.0 L2007.7,1730.2 L2010.7,1730.4 L2013.7,1730.6 L2016.7,1730.7 L2019.7,1730.9 L2022.7,1731.1 L2025.7,1731.3 L2028.7,1731.5 L2031.7,1731.7 L2034.7,1731.9 L2037.7,1732.1 L2040.8,1732.2 L2043.8,1732.4 L2046.8,1732.6 L2049.8,1732.8 L2052.8,1733.0 L2055.8,1733.2 L2058.8,1733.4 L2061.8,1733.6 L2064.8,1733.7 L2067.8,1733.9 L2070.8,1734.1 L2073.8,1734.3 L2076.8,1734.5 L2079.8,1734.7 L2082.8,1734.9 L2085.8,1735.0 L2088.8,1735.2 L2091.8,1735.4 L2094.8,1735.6 L2097.8,1735.8 L2100.8,1736.0 L2103.8,1736.2 L2106.8,1736.4 L2109.9,1736.5 L2112.9,1736.7 L2115.9,1736.9 L2118.9,1737.1 L2121.9,1737.3 L2124.9,1737.5 L2127.9,1737.7 L2130.9,1737.9 L2133.9,1738.0 L2136.9,1738.2 L2139.9,1738.4 L2142.9,1738.6 L2145.9,1738.8 L2148.9,1739.0 L2151.9,1739.2 L2154.9,1739.4 L2157.9,1739.5 L2160.9,1739.7 L2163.9,1739.9 L2166.9,1740.1 L2169.9,1740.3 L2172.9,1740.5 L2175.9,1740.7 L2178.9,1740.8 L2182.0,1741.0 L2185.0,1741.2 L2188.0,1741.4 L2191.0,1741.6 L2194.0,1741.8 L2197.0,1742.0 L2200.0,1742.2 L2203.0,1742.3 L2206.0,1742.5 L2209.0,1742.7 L2212.0,1742.9 L2215.0,1743.1 L2215.0,1743.1 L2212.0,1742.9 L2209.0,1742.7 L2206.0,1742.5 L2203.0,1742.3 L2200.0,1742.2 L2197.0,1742.0 L2194.0,1741.8 L2191.0,1741.6 L2188.0,1741.4 L2185.0,1741.2 L2182.0,1741.0 L2178.9,1740.8 L2175.9,1740.7 L2172.9,1740.5 L2169.9,1740.3 L2166.9,1740.1 L2163.9,1739.9 L2160.9,1739.7 L2157.9,1739.5 L2154.9,1739.4 L2151.9,1739.2 L2148.9,1739.0 L2145.9,1738.8 L2142.9,1738.6 L2139.9,1738.4 L2136.9,1738.2 L2133.9,1738.0 L2130.9,1737.9 L2127.9,1737.7 L2124.9,1737.5 L2121.9,1737.3 L2118.9,1737.1 L2115.9,1736.9 L2112.9,1736.7 L2109.9,1736.5 L2106.8,1736.4 L2103.8,1736.2 L2100.8,1736.0 L2097.8,1735.8 L2094.8,1735.6 L2091.8,1735.4 L2088.8,1735.2 L2085.8,1735.0 L2082.8,1734.9 L2079.8,1734.7 L2076.8,1734.5 L2073.8,1734.3 L2070.8,1734.1 L2067.8,1733.9 L2064.8,1733.7 L2061.8,1733.6 L2058.8,1733.4 L2055.8,1733.2 L2052.8,1733.0 L2049.8,1732.8 L2046.8,1732.6 L2043.8,1732.4 L2040.8,1732.2 L2037.7,1732.1 L2034.7,1731.9 L2031.7,1731.7 L2028.7,1731.5 L2025.7,1731.3 L2022.7,1731.1 L2019.7,1730.9 L2016.7,1730.7 L2013.7,1730.6 L2010.7,1730.4 L2007.7,1730.2 L2004.7,1730.0 L2001.7,1729.8 L1998.7,1729.6 L1995.7,1729.4 L1992.7,1729.2 L1989.7,1729.1 L1986.7,1728.9 L1983.7,1728.7 L1980.7,1728.5 L1977.7,1728.3 L1974.7,1728.1 L1971.7,1727.9 L1968.7,1727.8 L1965.6,1727.6 L1962.6,1727.4 L1959.6,1727.2 L1956.6,1727.0 L1953.6,1726.8 L1950.6,1726.6 L1947.6,1726.4 L1944.6,1726.3 L1941.6,1726.1 L1938.6,1725.9 L1935.6,1725.7 L1932.6,1725.5 L1929.6,1725.3 L1926.6,1725.1 L1923.6,1724.9 L1920.6,1724.8 L1917.6,1724.6 L1914.6,1724.4 L1911.6,1724.2 L1908.6,1724.0 L1905.6,1723.8 L1902.6,1723.6 L1899.6,1723.5 L1896.5,1723.3 L1893.5,1723.1 L1890.5,1722.9 L1887.5,1722.7 L1884.5,1722.5 L1881.5,1722.3 L1878.5,1722.1 L1875.5,1722.0 L1872.5,1721.8 L1869.5,1721.6 L1866.5,1721.4 L1863.5,1721.2 L1860.5,1721.0 L1857.5,1720.8 L1854.5,1720.6 L1851.5,1720.5 L1848.5,1720.3 L1845.5,1720.1 L1842.5,1719.9 L1839.5,1719.7 L1836.5,1719.5 L1833.5,1719.3 L1830.5,1719.1 L1827.5,1719.0 L1824.4,1718.8 L1821.4,1718.6 L1818.4,1718.4 L1815.4,1718.2 L1812.4,1718.0 L1809.4,1717.8 L1806.4,1717.7 L1803.4,1717.5 L1800.4,1717.3 L1797.4,1717.1 L1794.4,1716.9 L1791.4,1716.7 L1788.4,1716.5 L1785.4,1716.3 L1782.4,1716.2 L1779.4,1716.0 L1776.4,1715.8 L1773.4,1715.6 L1770.4,1715.4 L1767.4,1715.2 L1764.4,1715.0 L1761.4,1714.8 L1758.4,1714.7 L1755.4,1714.5 L1752.3,1714.3 L1749.3,1714.1 L1746.3,1713.9 L1743.3,1713.7 L1740.3,1713.5 L1737.3,1713.4 L1734.3,1713.2 L1731.3,1713.0 L1728.3,1712.8 L1725.3,1712.6 L1722.3,1712.4 L1719.3,1712.2 L1716.3,1712.0 L1713.3,1711.9 L1710.3,1711.7 L1707.3,1711.5 L1704.3,1711.3 L1701.3,1711.1 L1698.3,1710.9 L1695.3,1710.7 L1692.3,1710.5 L1689.3,1710.4 L1686.3,1710.2 L1683.2,1710.0 L1680.2,1709.8 L1677.2,1709.6 L1674.2,1709.4 L1671.2,1709.2 L1668.2,1709.0 L1665.2,1708.9 L1662.2,1708.7 L1659.2,1708.5 L1656.2,1708.3 L1653.2,1708.1 L1650.2,1707.9 L1647.2,1707.7 L1644.2,1707.6 L1641.2,1707.4 L1638.2,1707.2 L1635.2,1707.0 L1632.2,1706.8 L1629.2,1706.6 L1626.2,1706.4 L1623.2,1706.2 L1620.2,1706.1 L1617.2,1705.9 L1614.2,1705.7 L1611.1,1705.5 L1608.1,1705.3 L1605.1,1705.1 L1602.1,1704.9 L1599.1,1704.7 L1596.1,1704.6 L1593.1,1704.4 L1590.1,1704.2 L1587.1,1704.0 L1584.1,1703.8 L1581.1,1703.6 L1578.1,1703.4 L1575.1,1703.3 L1572.1,1703.1 L1569.1,1702.9 L1566.1,1702.7 L1563.1,1702.5 L1560.1,1702.3 L1557.1,1702.1 L1554.1,1701.9 L1551.1,1701.8 L1548.1,1701.6 L1545.1,1701.4 L1542.0,1701.2 L1539.0,1701.0 L1536.0,1700.8 L1533.0,1700.6 L1530.0,1700.4 L1527.0,1700.3 L1524.0,1700.1 L1521.0,1699.9 L1518.0,1699.7 L1515.0,1699.5 L1512.0,1699.3 L1509.0,1699.1 L1506.0,1698.9 L1503.0,1698.8 L1500.0,1698.6 L1497.0,1698.4 L1494.0,1698.2 L1491.0,1698.0 L1488.0,1697.8 L1485.0,1697.6 L1482.0,1697.5 L1479.0,1697.3 L1476.0,1697.1 L1473.0,1696.9 L1469.9,1696.7 L1466.9,1696.5 L1463.9,1696.3 L1460.9,1696.1 L1457.9,1696.0 L1454.9,1695.8 L1451.9,1695.6 L1448.9,1695.4 L1445.9,1695.2 L1442.9,1695.0 L1439.9,1694.8 L1436.9,1694.6 L1433.9,1694.5 L1430.9,1694.3 L1427.9,1694.1 L1424.9,1693.9 L1421.9,1693.7 L1418.9,1693.5 L1415.9,1693.3 L1412.9,1693.2 L1409.9,1693.0 L1406.9,1692.8 L1403.9,1692.6 L1400.8,1692.4 L1397.8,1692.2 L1394.8,1692.0 L1391.8,1691.8 L1388.8,1691.7 L1385.8,1691.5 L1382.8,1691.3 L1379.8,1691.1 L1376.8,1690.9 L1373.8,1690.7 L1370.8,1690.5 L1367.8,1690.3 L1364.8,1690.2 L1361.8,1690.0 L1358.8,1689.8 L1355.8,1689.6 L1352.8,1689.4 L1349.8,1689.2 L1346.8,1689.0 L1343.8,1688.8 L1340.8,1688.7 L1337.8,1688.5 L1334.8,1688.3 L1331.8,1688.1 L1328.7,1687.9 L1325.7,1687.7 L1322.7,1687.5 L1319.7,1687.4 L1316.7,1687.2 L1313.7,1687.0 L1310.7,1686.8 L1307.7,1686.6 L1304.7,1686.4 L1301.7,1686.2 L1298.7,1686.0 L1295.7,1685.9 L1292.7,1685.7 L1289.7,1685.5 L1286.7,1685.3 L1283.7,1685.1 L1280.7,1684.9 L1277.7,1684.7 L1274.7,1684.5 L1271.7,1684.4 L1268.7,1684.2 L1265.7,1684.0 L1262.7,1683.8 L1259.6,1683.6 L1256.6,1683.4 L1253.6,1683.2 L1250.6,1683.0 L1247.6,1682.9 L1244.6,1682.7 L1241.6,1682.5 L1238.6,1682.3 L1235.6,1682.1 L1232.6,1681.9 L1229.6,1681.7 L1226.6,1681.6 L1223.6,1681.4 L1220.6,1681.2 L1217.6,1681.0 L1214.6,1680.8 L1211.6,1680.6 L1208.6,1680.4 L1205.6,1680.2 L1202.6,1680.1 L1199.6,1679.9 L1196.6,1679.7 L1193.6,1679.5 L1190.6,1679.3 L1187.5,1679.1 L1184.5,1678.9 L1181.5,1678.7 L1178.5,1678.6 L1175.5,1678.4 L1172.5,1678.2 L1169.5,1678.0 L1166.5,1677.8 L1163.5,1677.6 L1160.5,1677.4 L1157.5,1677.3 L1154.5,1677.1 L1151.5,1676.9 L1148.5,1676.7 L1145.5,1676.5 L1142.5,1676.3 L1139.5,1676.1 L1136.5,1675.9 L1133.5,1675.8 L1130.5,1675.6 L1127.5,1675.4 L1124.5,1675.2 L1121.5,1675.0 L1118.5,1674.8 L1115.4,1674.6 L1112.4,1674.4 L1109.4,1674.3 L1106.4,1674.1 L1103.4,1673.9 L1100.4,1673.7 L1097.4,1673.5 L1094.4,1673.3 L1091.4,1673.1 L1088.4,1672.9 L1085.4,1672.8 L1082.4,1672.6 L1079.4,1672.4 L1076.4,1672.2 L1073.4,1672.0 L1070.4,1671.8 L1067.4,1671.6 L1064.4,1671.5 L1061.4,1671.3 L1058.4,1671.1 L1055.4,1670.9 L1052.4,1670.7 L1049.4,1670.5 L1046.3,1670.3 L1043.3,1670.1 L1040.3,1670.0 L1037.3,1669.8 L1034.3,1669.6 L1031.3,1669.4 L1028.3,1669.2 L1025.3,1669.0 L1022.3,1668.8 L1019.3,1668.6 L1016.3,1668.5 L1013.3,1668.3 L1010.3,1668.1 L1007.3,1667.9 L1004.3,1667.7 L1001.3,1667.5 L998.3,1667.3 L995.3,1667.2 L992.3,1667.0 L989.3,1666.8 L986.3,1666.6 L983.3,1666.4 L980.3,1666.2 L977.3,1666.0 L974.2,1665.8 L971.2,1665.7 L968.2,1665.5 L965.2,1665.3 L962.2,1665.1 L959.2,1664.9 L956.2,1664.7 L953.2,1664.5 L950.2,1664.3 L947.2,1664.2 L944.2,1664.0 L941.2,1663.8 L938.2,1663.6 L935.2,1663.4 L932.2,1663.2 L929.2,1663.0 L926.2,1662.8 L923.2,1662.7 L920.2,1662.5 L917.2,1662.3 L914.2,1662.1 L911.2,1661.9 L908.2,1661.7 L905.1,1661.5 L902.1,1661.4 L899.1,1661.2 L896.1,1661.0 L893.1,1660.8 L890.1,1660.6 L887.1,1660.4 L884.1,1660.2 L881.1,1660.0 L878.1,1659.9 L875.1,1659.7 L872.1,1659.5 L869.1,1659.3 L866.1,1659.1 L863.1,1658.9 L860.1,1658.7 L857.1,1658.5 L854.1,1658.4 L851.1,1658.2 L848.1,1658.0 L845.1,1657.8 L842.1,1657.6 L839.1,1657.4 L836.1,1657.2 L833.0,1657.1 L830.0,1656.9 L827.0,1656.7 L824.0,1656.5 L821.0,1656.3 L818.0,1656.1 L815.0,1655.9 L812.0,1655.7 L809.0,1655.6 L806.0,1655.4 L803.0,1655.2 L800.0,1655.0Z" fill="url(#go)"/>
<path d="M800.0,1654.6 L803.0,1654.8 L806.0,1654.9 L809.0,1655.1 L812.0,1655.2 L815.0,1655.4 L818.0,1655.5 L821.0,1655.6 L824.0,1655.8 L827.0,1655.9 L830.0,1656.0 L833.0,1656.1 L836.1,1656.2 L839.1,1656.3 L842.1,1656.4 L845.1,1656.5 L848.1,1656.6 L851.1,1656.6 L854.1,1656.7 L857.1,1656.7 L860.1,1656.8 L863.1,1656.8 L866.1,1656.8 L869.1,1656.8 L872.1,1656.8 L875.1,1656.8 L878.1,1656.8 L881.1,1656.7 L884.1,1656.7 L887.1,1656.6 L890.1,1656.5 L893.1,1656.3 L896.1,1656.2 L899.1,1656.0 L902.1,1655.8 L905.1,1655.6 L908.2,1655.4 L911.2,1655.1 L914.2,1654.8 L917.2,1654.5 L920.2,1654.1 L923.2,1653.7 L926.2,1653.3 L929.2,1652.8 L932.2,1652.3 L935.2,1651.8 L938.2,1651.2 L941.2,1650.6 L944.2,1649.9 L947.2,1649.1 L950.2,1648.4 L953.2,1647.5 L956.2,1646.7 L959.2,1645.7 L962.2,1644.7 L965.2,1643.6 L968.2,1642.5 L971.2,1641.3 L974.2,1640.0 L977.3,1638.7 L980.3,1637.3 L983.3,1635.8 L986.3,1634.2 L989.3,1632.5 L992.3,1630.8 L995.3,1629.0 L998.3,1627.0 L1001.3,1625.0 L1004.3,1622.9 L1007.3,1620.7 L1010.3,1618.4 L1013.3,1615.9 L1016.3,1613.4 L1019.3,1610.8 L1022.3,1608.0 L1025.3,1605.2 L1028.3,1602.2 L1031.3,1599.1 L1034.3,1595.8 L1037.3,1592.5 L1040.3,1589.0 L1043.3,1585.4 L1046.3,1581.7 L1049.4,1577.8 L1052.4,1573.8 L1055.4,1569.7 L1058.4,1565.4 L1061.4,1561.0 L1064.4,1556.5 L1067.4,1551.8 L1070.4,1546.9 L1073.4,1542.0 L1076.4,1536.9 L1079.4,1531.6 L1082.4,1526.2 L1085.4,1520.7 L1088.4,1515.1 L1091.4,1509.3 L1094.4,1503.3 L1097.4,1497.3 L1100.4,1491.1 L1103.4,1484.7 L1106.4,1478.3 L1109.4,1471.7 L1112.4,1465.0 L1115.4,1458.2 L1118.5,1451.2 L1121.5,1444.2 L1124.5,1437.0 L1127.5,1429.7 L1130.5,1422.4 L1133.5,1414.9 L1136.5,1407.4 L1139.5,1399.8 L1142.5,1392.1 L1145.5,1384.3 L1148.5,1376.5 L1151.5,1368.6 L1154.5,1360.7 L1157.5,1352.8 L1160.5,1344.8 L1163.5,1336.8 L1166.5,1328.7 L1169.5,1320.7 L1172.5,1312.7 L1175.5,1304.6 L1178.5,1296.6 L1181.5,1288.7 L1184.5,1280.7 L1187.5,1272.8 L1190.6,1265.0 L1193.6,1257.3 L1196.6,1249.6 L1199.6,1242.0 L1202.6,1234.5 L1205.6,1227.1 L1208.6,1219.8 L1211.6,1212.7 L1214.6,1205.7 L1217.6,1198.8 L1220.6,1192.1 L1223.6,1185.6 L1226.6,1179.2 L1229.6,1173.1 L1232.6,1167.1 L1235.6,1161.3 L1238.6,1155.8 L1241.6,1150.5 L1244.6,1145.4 L1247.6,1140.5 L1250.6,1135.9 L1253.6,1131.5 L1256.6,1127.4 L1259.6,1123.6 L1262.7,1120.0 L1265.7,1116.7 L1268.7,1113.7 L1271.7,1111.0 L1274.7,1108.6 L1277.7,1106.5 L1280.7,1104.6 L1283.7,1103.1 L1286.7,1101.9 L1289.7,1101.0 L1292.7,1100.4 L1295.7,1100.2 L1298.7,1100.2 L1301.7,1100.6 L1304.7,1101.2 L1307.7,1102.2 L1310.7,1103.5 L1313.7,1105.1 L1316.7,1107.0 L1319.7,1109.2 L1322.7,1111.7 L1325.7,1114.6 L1328.7,1117.7 L1331.8,1121.1 L1334.8,1124.7 L1337.8,1128.7 L1340.8,1132.9 L1343.8,1137.4 L1346.8,1142.2 L1349.8,1147.2 L1352.8,1152.5 L1355.8,1157.9 L1358.8,1163.7 L1361.8,1169.6 L1364.8,1175.8 L1367.8,1182.1 L1370.8,1188.7 L1373.8,1195.4 L1376.8,1202.3 L1379.8,1209.4 L1382.8,1216.7 L1385.8,1224.0 L1388.8,1231.6 L1391.8,1239.2 L1394.8,1247.0 L1397.8,1254.9 L1400.8,1262.8 L1403.9,1270.9 L1406.9,1279.0 L1409.9,1287.2 L1412.9,1295.5 L1415.9,1303.8 L1418.9,1312.2 L1421.9,1320.5 L1424.9,1328.9 L1427.9,1337.4 L1430.9,1345.8 L1433.9,1354.2 L1436.9,1362.6 L1439.9,1370.9 L1442.9,1379.3 L1445.9,1387.5 L1448.9,1395.8 L1451.9,1404.0 L1454.9,1412.1 L1457.9,1420.2 L1460.9,1428.1 L1463.9,1436.0 L1466.9,1443.9 L1469.9,1451.6 L1473.0,1459.2 L1476.0,1466.7 L1479.0,1474.2 L1482.0,1481.5 L1485.0,1488.7 L1488.0,1495.7 L1491.0,1502.7 L1494.0,1509.5 L1497.0,1516.2 L1500.0,1522.8 L1503.0,1529.2 L1506.0,1535.5 L1509.0,1541.7 L1512.0,1547.7 L1515.0,1553.6 L1518.0,1559.3 L1521.0,1564.9 L1524.0,1570.4 L1527.0,1575.7 L1530.0,1580.9 L1533.0,1586.0 L1536.0,1590.9 L1539.0,1595.7 L1542.0,1600.3 L1545.1,1604.8 L1548.1,1609.2 L1551.1,1613.4 L1554.1,1617.5 L1557.1,1621.5 L1560.1,1625.3 L1563.1,1629.0 L1566.1,1632.6 L1569.1,1636.1 L1572.1,1639.4 L1575.1,1642.7 L1578.1,1645.8 L1581.1,1648.8 L1584.1,1651.7 L1587.1,1654.5 L1590.1,1657.1 L1593.1,1659.7 L1596.1,1662.2 L1599.1,1664.6 L1602.1,1666.9 L1605.1,1669.1 L1608.1,1671.2 L1611.1,1673.2 L1614.2,1675.2 L1617.2,1677.0 L1620.2,1678.8 L1623.2,1680.5 L1626.2,1682.2 L1629.2,1683.7 L1632.2,1685.2 L1635.2,1686.7 L1638.2,1688.1 L1641.2,1689.4 L1644.2,1690.6 L1647.2,1691.8 L1650.2,1693.0 L1653.2,1694.1 L1656.2,1695.1 L1659.2,1696.1 L1662.2,1697.1 L1665.2,1698.0 L1668.2,1698.9 L1671.2,1699.7 L1674.2,1700.5 L1677.2,1701.3 L1680.2,1702.0 L1683.2,1702.7 L1686.3,1703.4 L1689.3,1704.0 L1692.3,1704.7 L1695.3,1705.2 L1698.3,1705.8 L1701.3,1706.3 L1704.3,1706.9 L1707.3,1707.4 L1710.3,1707.8 L1713.3,1708.3 L1716.3,1708.7 L1719.3,1709.2 L1722.3,1709.6 L1725.3,1710.0 L1728.3,1710.3 L1731.3,1710.7 L1734.3,1711.1 L1737.3,1711.4 L1740.3,1711.7 L1743.3,1712.1 L1746.3,1712.4 L1749.3,1712.7 L1752.3,1713.0 L1755.4,1713.3 L1758.4,1713.6 L1761.4,1713.8 L1764.4,1714.1 L1767.4,1714.4 L1770.4,1714.6 L1773.4,1714.9 L1776.4,1715.1 L1779.4,1715.4 L1782.4,1715.6 L1785.4,1715.8 L1788.4,1716.1 L1791.4,1716.3 L1794.4,1716.5 L1797.4,1716.7 L1800.4,1716.9 L1803.4,1717.2 L1806.4,1717.4 L1809.4,1717.6 L1812.4,1717.8 L1815.4,1718.0 L1818.4,1718.2 L1821.4,1718.4 L1824.4,1718.6 L1827.5,1718.8 L1830.5,1719.0 L1833.5,1719.2 L1836.5,1719.4 L1839.5,1719.6 L1842.5,1719.8 L1845.5,1720.0 L1848.5,1720.2 L1851.5,1720.4 L1854.5,1720.6 L1857.5,1720.8 L1860.5,1721.0 L1863.5,1721.2 L1866.5,1721.4 L1869.5,1721.5 L1872.5,1721.7 L1875.5,1721.9 L1878.5,1722.1 L1881.5,1722.3 L1884.5,1722.5 L1887.5,1722.7 L1890.5,1722.9 L1893.5,1723.1 L1896.5,1723.2 L1899.6,1723.4 L1902.6,1723.6 L1905.6,1723.8 L1908.6,1724.0 L1911.6,1724.2 L1914.6,1724.4 L1917.6,1724.6 L1920.6,1724.8 L1923.6,1724.9 L1926.6,1725.1 L1929.6,1725.3 L1932.6,1725.5 L1935.6,1725.7 L1938.6,1725.9 L1941.6,1726.1 L1944.6,1726.3 L1947.6,1726.4 L1950.6,1726.6 L1953.6,1726.8 L1956.6,1727.0 L1959.6,1727.2 L1962.6,1727.4 L1965.6,1727.6 L1968.7,1727.8 L1971.7,1727.9 L1974.7,1728.1 L1977.7,1728.3 L1980.7,1728.5 L1983.7,1728.7 L1986.7,1728.9 L1989.7,1729.1 L1992.7,1729.2 L1995.7,1729.4 L1998.7,1729.6 L2001.7,1729.8 L2004.7,1730.0 L2007.7,1730.2 L2010.7,1730.4 L2013.7,1730.6 L2016.7,1730.7 L2019.7,1730.9 L2022.7,1731.1 L2025.7,1731.3 L2028.7,1731.5 L2031.7,1731.7 L2034.7,1731.9 L2037.7,1732.1 L2040.8,1732.2 L2043.8,1732.4 L2046.8,1732.6 L2049.8,1732.8 L2052.8,1733.0 L2055.8,1733.2 L2058.8,1733.4 L2061.8,1733.6 L2064.8,1733.7 L2067.8,1733.9 L2070.8,1734.1 L2073.8,1734.3 L2076.8,1734.5 L2079.8,1734.7 L2082.8,1734.9 L2085.8,1735.0 L2088.8,1735.2 L2091.8,1735.4 L2094.8,1735.6 L2097.8,1735.8 L2100.8,1736.0 L2103.8,1736.2 L2106.8,1736.4 L2109.9,1736.5 L2112.9,1736.7 L2115.9,1736.9 L2118.9,1737.1 L2121.9,1737.3 L2124.9,1737.5 L2127.9,1737.7 L2130.9,1737.9 L2133.9,1738.0 L2136.9,1738.2 L2139.9,1738.4 L2142.9,1738.6 L2145.9,1738.8 L2148.9,1739.0 L2151.9,1739.2 L2154.9,1739.4 L2157.9,1739.5 L2160.9,1739.7 L2163.9,1739.9 L2166.9,1740.1 L2169.9,1740.3 L2172.9,1740.5 L2175.9,1740.7 L2178.9,1740.8 L2182.0,1741.0 L2185.0,1741.2 L2188.0,1741.4 L2191.0,1741.6 L2194.0,1741.8 L2197.0,1742.0 L2200.0,1742.2 L2203.0,1742.3 L2206.0,1742.5 L2209.0,1742.7 L2212.0,1742.9 L2215.0,1743.1" fill="none" stroke="#FF6600" stroke-width="8"/>
<path d="M198.9,1593.5 L201.7,1594.0 L204.4,1594.4 L207.2,1594.7 L209.9,1595.1 L212.7,1595.5 L215.4,1595.9 L218.2,1596.3 L220.9,1596.7 L223.7,1597.0 L226.4,1597.4 L229.2,1597.8 L231.9,1598.1 L234.7,1598.5 L237.4,1598.8 L240.2,1599.2 L242.9,1599.5 L245.6,1599.9 L248.4,1600.2 L251.1,1600.5 L253.9,1600.9 L256.6,1601.2 L259.3,1601.5 L262.1,1601.9 L264.8,1602.2 L267.5,1602.5 L270.2,1602.9 L273.0,1603.2 L275.7,1603.5 L278.4,1603.8 L281.2,1604.2 L283.9,1604.5 L286.6,1604.8 L289.3,1605.1 L292.1,1605.5 L294.8,1605.8 L297.5,1606.1 L300.2,1606.4 L302.9,1606.8 L305.7,1607.1 L308.4,1607.4 L311.1,1607.7 L313.8,1608.1 L316.5,1608.4 L319.3,1608.7 L322.0,1609.1 L324.7,1609.4 L327.4,1609.8 L330.1,1610.1 L332.8,1610.4 L335.6,1610.8 L338.3,1611.1 L341.0,1611.5 L343.7,1611.9 L346.4,1612.2 L349.2,1612.6 L351.9,1612.9 L354.6,1613.3 L357.3,1613.7 L360.0,1614.1 L362.7,1614.5 L365.5,1614.8 L368.2,1615.2 L370.9,1615.6 L373.6,1616.0 L376.3,1616.5 L379.1,1616.9 L381.8,1617.3 L384.5,1617.7 L387.2,1618.1 L389.9,1618.6 L392.7,1619.0 L395.4,1619.5 L398.1,1619.9 L400.8,1620.4 L403.6,1620.9 L406.3,1621.3 L409.0,1621.8 L411.7,1622.3 L414.5,1622.8 L417.2,1623.3 L419.9,1623.8 L422.6,1624.4 L425.4,1624.9 L428.1,1625.4 L430.8,1626.0 L433.6,1626.5 L436.3,1627.1 L439.0,1627.6 L441.8,1628.1 L444.5,1628.7 L447.3,1629.2 L450.0,1629.8 L452.7,1630.3 L455.5,1630.8 L458.2,1631.4 L460.9,1631.9 L463.7,1632.4 L466.4,1632.9 L469.2,1633.4 L471.9,1633.8 L474.6,1634.3 L477.4,1634.7 L480.1,1635.2 L482.9,1635.6 L485.6,1636.0 L488.4,1636.3 L491.1,1636.7 L493.8,1637.0 L496.6,1637.3 L499.3,1637.6 L502.1,1637.8 L504.8,1638.1 L507.6,1638.2 L510.3,1638.4 L513.0,1638.6 L515.8,1638.7 L518.5,1638.7 L521.3,1638.8 L524.0,1638.8 L526.8,1638.7 L529.5,1638.7 L532.2,1638.6 L535.0,1638.4 L537.7,1638.2 L540.5,1638.0 L543.2,1637.7 L545.9,1637.4 L548.7,1637.0 L551.4,1636.6 L554.1,1636.2 L556.8,1635.7 L559.6,1635.1 L562.3,1634.5 L565.0,1633.9 L567.7,1633.2 L570.3,1632.5 L573.0,1631.8 L575.6,1631.0 L578.3,1630.1 L580.9,1629.2 L583.5,1628.3 L586.1,1627.3 L588.6,1626.3 L591.2,1625.2 L593.7,1624.1 L596.2,1623.0 L598.6,1621.8 L601.1,1620.5 L603.5,1619.3 L605.9,1617.9 L605.9,1617.2 L602.9,1617.0 L599.9,1616.8 L596.8,1616.7 L593.8,1616.5 L590.8,1616.3 L587.8,1616.1 L584.8,1615.9 L581.8,1615.7 L578.8,1615.5 L575.7,1615.3 L572.7,1615.2 L569.7,1615.0 L566.7,1614.8 L563.7,1614.6 L560.7,1614.4 L557.7,1614.2 L554.6,1614.0 L551.6,1613.9 L548.6,1613.7 L545.6,1613.5 L542.6,1613.3 L539.6,1613.1 L536.6,1612.9 L533.5,1612.7 L530.5,1612.5 L527.5,1612.4 L524.5,1612.2 L521.5,1612.0 L518.5,1611.8 L515.5,1611.6 L512.5,1611.4 L509.4,1611.2 L506.4,1611.0 L503.4,1610.9 L500.4,1610.7 L497.4,1610.5 L494.4,1610.3 L491.4,1610.1 L488.3,1609.9 L485.3,1609.7 L482.3,1609.5 L479.3,1609.4 L476.3,1609.2 L473.3,1609.0 L470.3,1608.8 L467.2,1608.6 L464.2,1608.4 L461.2,1608.2 L458.2,1608.1 L455.2,1607.9 L452.2,1607.7 L449.2,1607.5 L446.1,1607.3 L443.1,1607.1 L440.1,1606.9 L437.1,1606.7 L434.1,1606.6 L431.1,1606.4 L428.1,1606.2 L425.0,1606.0 L422.0,1605.8 L419.0,1605.6 L416.0,1605.4 L413.0,1605.2 L410.0,1605.1 L407.0,1604.9 L403.9,1604.7 L400.9,1604.5 L397.9,1604.3 L394.9,1604.1 L391.9,1603.9 L388.9,1603.7 L385.9,1603.6 L382.9,1603.4 L379.8,1603.2 L376.8,1603.0 L373.8,1602.8 L370.8,1602.6 L367.8,1602.4 L364.8,1602.3 L361.8,1602.1 L358.7,1601.9 L355.7,1601.7 L352.7,1601.5 L349.7,1601.3 L346.7,1601.1 L343.7,1600.9 L340.7,1600.8 L337.6,1600.6 L334.6,1600.4 L331.6,1600.2 L328.6,1600.0 L325.6,1599.8 L322.6,1599.6 L319.6,1599.4 L316.5,1599.3 L313.5,1599.1 L310.5,1598.9 L307.5,1598.7 L304.5,1598.5 L301.5,1598.3 L298.5,1598.1 L295.4,1598.0 L292.4,1597.8 L289.4,1597.6 L286.4,1597.4 L283.4,1597.2 L280.4,1597.0 L277.4,1596.8 L274.3,1596.6 L271.3,1596.5 L268.3,1596.3 L265.3,1596.1 L262.3,1595.9 L259.3,1595.7 L256.3,1595.5 L253.3,1595.3 L250.2,1595.1 L247.2,1595.0 L244.2,1594.8 L241.2,1594.6 L238.2,1594.4 L235.2,1594.2 L232.2,1594.0 L229.1,1593.8 L226.1,1593.6 L223.1,1593.5 L220.1,1593.3 L217.1,1593.1 L214.1,1592.9 L211.1,1592.7 L208.0,1592.5 L205.0,1592.3 L202.0,1592.2 L199.0,1592.0Z" fill="url(#gb)"/>
<path d="M510.0,1636.9 L513.0,1637.1 L516.0,1637.3 L519.0,1637.5 L522.0,1637.7 L525.0,1637.9 L528.0,1638.1 L531.0,1638.2 L534.0,1638.4 L537.0,1638.6 L540.0,1638.8 L543.0,1639.0 L546.0,1639.2 L549.0,1639.4 L552.0,1639.6 L555.0,1639.7 L558.0,1639.9 L561.0,1640.1 L564.0,1640.3 L567.0,1640.5 L570.0,1640.7 L573.0,1640.9 L576.0,1641.0 L579.0,1641.2 L582.0,1641.4 L585.0,1641.6 L588.0,1641.8 L591.0,1642.0 L594.0,1642.2 L597.1,1642.4 L600.1,1642.5 L603.1,1642.7 L606.1,1642.9 L609.1,1643.1 L612.1,1643.3 L615.1,1643.5 L618.1,1643.7 L621.1,1643.9 L624.1,1644.0 L627.1,1644.2 L630.1,1644.4 L633.1,1644.6 L636.1,1644.8 L639.1,1645.0 L642.1,1645.2 L645.1,1645.3 L648.1,1645.5 L651.1,1645.7 L654.1,1645.9 L657.1,1646.1 L660.1,1646.3 L663.1,1646.5 L666.1,1646.7 L669.1,1646.8 L672.1,1647.0 L675.1,1647.2 L678.1,1647.4 L681.1,1647.6 L684.1,1647.8 L687.1,1648.0 L690.1,1648.2 L693.1,1648.3 L696.1,1648.5 L699.1,1648.7 L702.1,1648.9 L705.1,1649.1 L708.1,1649.3 L711.1,1649.5 L714.1,1649.6 L717.1,1649.8 L720.1,1650.0 L723.1,1650.2 L726.1,1650.4 L729.1,1650.6 L732.1,1650.8 L735.1,1651.0 L738.1,1651.1 L741.1,1651.3 L744.1,1651.5 L747.1,1651.7 L750.1,1651.9 L753.1,1652.1 L756.1,1652.3 L759.1,1652.4 L762.1,1652.6 L765.1,1652.8 L768.2,1653.0 L771.2,1653.2 L774.2,1653.4 L777.2,1653.6 L780.2,1653.8 L783.2,1653.9 L786.2,1654.1 L789.2,1654.3 L792.2,1654.5 L795.2,1654.7 L798.2,1654.9 L801.2,1655.1 L804.2,1655.3 L807.2,1655.4 L810.2,1655.6 L813.2,1655.8 L816.2,1656.0 L819.2,1656.2 L822.2,1656.4 L825.2,1656.6 L828.2,1656.7 L831.2,1656.9 L834.2,1657.1 L837.2,1657.3 L840.2,1657.5 L843.2,1657.7 L846.2,1657.9 L849.2,1658.1 L852.2,1658.2 L855.2,1658.4 L858.2,1658.6 L861.2,1658.8 L864.2,1659.0 L867.2,1659.2 L870.2,1659.4 L873.2,1659.6 L876.2,1659.7 L879.2,1659.9 L882.2,1660.1 L885.2,1660.3 L888.2,1660.5 L891.2,1660.7 L894.2,1660.9 L897.2,1661.0 L900.2,1661.2 L903.2,1661.4 L906.2,1661.6 L909.2,1661.8 L912.2,1662.0 L915.2,1662.2 L918.2,1662.4 L921.2,1662.5 L924.2,1662.7 L927.2,1662.9 L930.2,1663.1 L933.2,1663.3 L936.2,1663.5 L939.3,1663.7 L942.3,1663.8 L945.3,1664.0 L948.3,1664.2 L951.3,1664.4 L954.3,1664.6 L957.3,1664.8 L960.3,1665.0 L963.3,1665.1 L966.3,1665.3 L969.3,1665.5 L972.3,1665.7 L975.3,1665.9 L978.3,1666.1 L981.3,1666.3 L984.3,1666.4 L987.3,1666.6 L990.3,1666.8 L993.3,1667.0 L996.3,1667.2 L999.3,1667.4 L1002.3,1667.6 L1005.3,1667.7 L1008.3,1667.9 L1011.3,1668.1 L1014.3,1668.3 L1017.3,1668.5 L1020.3,1668.7 L1023.3,1668.8 L1026.3,1669.0 L1029.3,1669.2 L1032.3,1669.4 L1035.3,1669.6 L1038.3,1669.7 L1041.3,1669.9 L1044.3,1670.1 L1047.3,1670.3 L1050.3,1670.5 L1053.3,1670.6 L1056.3,1670.8 L1059.3,1671.0 L1062.3,1671.2 L1065.3,1671.3 L1068.3,1671.5 L1071.3,1671.7 L1074.3,1671.9 L1077.3,1672.0 L1080.3,1672.2 L1083.3,1672.4 L1086.3,1672.5 L1089.3,1672.7 L1092.3,1672.9 L1095.3,1673.0 L1098.3,1673.2 L1101.3,1673.3 L1104.3,1673.5 L1107.4,1673.7 L1110.4,1673.8 L1113.4,1674.0 L1116.4,1674.1 L1119.4,1674.2 L1122.4,1674.4 L1125.4,1674.5 L1128.4,1674.7 L1131.4,1674.8 L1134.4,1674.9 L1137.4,1675.0 L1140.4,1675.2 L1143.4,1675.3 L1146.4,1675.4 L1149.4,1675.5 L1152.4,1675.6 L1155.4,1675.7 L1158.4,1675.8 L1161.4,1675.9 L1164.4,1675.9 L1167.4,1676.0 L1170.4,1676.1 L1173.4,1676.1 L1176.4,1676.2 L1179.4,1676.2 L1182.4,1676.3 L1185.4,1676.3 L1188.4,1676.3 L1191.4,1676.3 L1194.4,1676.3 L1197.4,1676.3 L1200.4,1676.3 L1203.4,1676.2 L1206.4,1676.2 L1209.4,1676.1 L1212.4,1676.0 L1215.4,1676.0 L1218.4,1675.9 L1221.4,1675.7 L1224.4,1675.6 L1227.4,1675.4 L1230.4,1675.3 L1233.4,1675.1 L1236.4,1674.9 L1239.4,1674.7 L1242.4,1674.4 L1245.4,1674.1 L1248.4,1673.9 L1251.4,1673.6 L1254.4,1673.2 L1257.4,1672.9 L1260.4,1672.5 L1263.4,1672.1 L1266.4,1671.6 L1269.4,1671.2 L1272.4,1670.7 L1275.4,1670.1 L1278.5,1669.6 L1281.5,1669.0 L1284.5,1668.4 L1287.5,1667.7 L1290.5,1667.0 L1293.5,1666.3 L1296.5,1665.5 L1299.5,1664.7 L1302.5,1663.9 L1305.5,1663.0 L1308.5,1662.1 L1311.5,1661.1 L1314.5,1660.1 L1317.5,1659.0 L1320.5,1657.9 L1323.5,1656.8 L1326.5,1655.6 L1329.5,1654.3 L1332.5,1653.0 L1335.5,1651.7 L1338.5,1650.3 L1341.5,1648.8 L1344.5,1647.3 L1347.5,1645.7 L1350.5,1644.1 L1353.5,1642.4 L1356.5,1640.7 L1359.5,1638.9 L1362.5,1637.0 L1365.5,1635.1 L1368.5,1633.1 L1371.5,1631.0 L1374.5,1628.9 L1377.5,1626.7 L1380.5,1624.5 L1383.5,1622.2 L1386.5,1619.8 L1389.5,1617.4 L1392.5,1614.8 L1395.5,1612.3 L1398.5,1609.6 L1401.5,1606.9 L1404.5,1604.1 L1407.5,1601.3 L1410.5,1598.3 L1413.5,1595.3 L1416.5,1592.3 L1419.5,1589.2 L1422.5,1586.0 L1425.5,1582.7 L1428.5,1579.4 L1431.5,1576.0 L1434.5,1572.5 L1437.5,1569.0 L1440.5,1565.4 L1443.5,1561.8 L1446.5,1558.0 L1449.6,1554.3 L1452.6,1550.4 L1455.6,1546.6 L1458.6,1542.6 L1461.6,1538.6 L1464.6,1534.6 L1467.6,1530.5 L1470.6,1526.3 L1473.6,1522.1 L1476.6,1517.9 L1479.6,1513.6 L1482.6,1509.3 L1485.6,1504.9 L1488.6,1500.5 L1491.6,1496.1 L1494.6,1491.6 L1497.6,1487.1 L1500.6,1482.6 L1503.6,1478.1 L1506.6,1473.5 L1509.6,1469.0 L1512.6,1464.4 L1515.6,1459.8 L1518.6,1455.2 L1521.6,1450.7 L1524.6,1446.1 L1527.6,1441.5 L1530.6,1437.0 L1533.6,1432.4 L1536.6,1427.9 L1539.6,1423.4 L1542.6,1418.9 L1545.6,1414.5 L1548.6,1410.1 L1551.6,1405.7 L1554.6,1401.4 L1557.6,1397.1 L1560.6,1392.8 L1563.6,1388.7 L1566.6,1384.6 L1569.6,1380.5 L1572.6,1376.5 L1575.6,1372.6 L1578.6,1368.8 L1581.6,1365.0 L1584.6,1361.4 L1587.6,1357.8 L1590.6,1354.3 L1593.6,1350.9 L1596.6,1347.6 L1599.6,1344.4 L1602.6,1341.3 L1605.6,1338.3 L1608.6,1335.5 L1611.6,1332.7 L1614.6,1330.1 L1617.6,1327.6 L1620.7,1325.2 L1623.7,1323.0 L1626.7,1320.8 L1629.7,1318.9 L1632.7,1317.0 L1635.7,1315.3 L1638.7,1313.7 L1641.7,1312.3 L1644.7,1311.0 L1647.7,1309.9 L1650.7,1308.9 L1653.7,1308.0 L1656.7,1307.3 L1659.7,1306.8 L1662.7,1306.4 L1665.7,1306.2 L1668.7,1306.1 L1671.7,1306.2 L1674.7,1306.4 L1677.7,1306.8 L1680.7,1307.3 L1683.7,1308.0 L1686.7,1308.8 L1689.7,1309.8 L1692.7,1310.9 L1695.7,1312.2 L1698.7,1313.6 L1701.7,1315.2 L1704.7,1316.9 L1707.7,1318.8 L1710.7,1320.8 L1713.7,1323.0 L1716.7,1325.2 L1719.7,1327.7 L1722.7,1330.2 L1725.7,1332.9 L1728.7,1335.7 L1731.7,1338.6 L1734.7,1341.7 L1737.7,1344.9 L1740.7,1348.2 L1743.7,1351.6 L1746.7,1355.1 L1749.7,1358.7 L1752.7,1362.4 L1755.7,1366.2 L1758.7,1370.1 L1761.7,1374.1 L1764.7,1378.2 L1767.7,1382.4 L1770.7,1386.6 L1773.7,1390.9 L1776.7,1395.3 L1779.7,1399.8 L1782.7,1404.3 L1785.7,1408.9 L1788.8,1413.5 L1791.8,1418.2 L1794.8,1422.9 L1797.8,1427.7 L1800.8,1432.5 L1803.8,1437.3 L1806.8,1442.1 L1809.8,1447.0 L1812.8,1451.9 L1815.8,1456.9 L1818.8,1461.8 L1821.8,1466.8 L1824.8,1471.7 L1827.8,1476.7 L1830.8,1481.6 L1833.8,1486.6 L1836.8,1491.5 L1839.8,1496.4 L1842.8,1501.3 L1845.8,1506.2 L1848.8,1511.1 L1851.8,1516.0 L1854.8,1520.8 L1857.8,1525.6 L1860.8,1530.3 L1863.8,1535.0 L1866.8,1539.7 L1869.8,1544.4 L1872.8,1549.0 L1875.8,1553.5 L1878.8,1558.0 L1881.8,1562.5 L1884.8,1566.9 L1887.8,1571.2 L1890.8,1575.5 L1893.8,1579.7 L1896.8,1583.9 L1899.8,1588.0 L1902.8,1592.1 L1905.8,1596.1 L1908.8,1600.0 L1911.8,1603.9 L1914.8,1607.7 L1917.8,1611.4 L1920.8,1615.1 L1923.8,1618.7 L1926.8,1622.3 L1929.8,1625.7 L1932.8,1629.1 L1935.8,1632.5 L1938.8,1635.7 L1941.8,1638.9 L1944.8,1642.0 L1947.8,1645.1 L1950.8,1648.1 L1953.8,1651.0 L1956.8,1653.9 L1959.9,1656.7 L1962.9,1659.4 L1965.9,1662.0 L1968.9,1664.6 L1971.9,1667.2 L1974.9,1669.6 L1977.9,1672.0 L1980.9,1674.4 L1983.9,1676.6 L1986.9,1678.8 L1989.9,1681.0 L1992.9,1683.1 L1995.9,1685.1 L1998.9,1687.1 L2001.9,1689.0 L2004.9,1690.9 L2007.9,1692.7 L2010.9,1694.4 L2013.9,1696.1 L2016.9,1697.8 L2019.9,1699.4 L2022.9,1700.9 L2025.9,1702.4 L2028.9,1703.9 L2031.9,1705.3 L2034.9,1706.7 L2037.9,1708.0 L2040.9,1709.3 L2043.9,1710.5 L2046.9,1711.7 L2049.9,1712.9 L2052.9,1714.0 L2055.9,1715.1 L2058.9,1716.1 L2061.9,1717.1 L2064.9,1718.1 L2067.9,1719.1 L2070.9,1720.0 L2073.9,1720.9 L2076.9,1721.7 L2079.9,1722.6 L2082.9,1723.4 L2085.9,1724.1 L2088.9,1724.9 L2091.9,1725.6 L2094.9,1726.3 L2097.9,1727.0 L2100.9,1727.6 L2103.9,1728.3 L2106.9,1728.9 L2109.9,1729.5 L2112.9,1730.0 L2115.9,1730.6 L2118.9,1731.1 L2121.9,1731.6 L2124.9,1732.1 L2127.9,1732.6 L2131.0,1733.1 L2134.0,1733.5 L2137.0,1734.0 L2140.0,1734.4 L2143.0,1734.8 L2146.0,1735.2 L2149.0,1735.6 L2152.0,1736.0 L2155.0,1736.4 L2158.0,1736.8 L2161.0,1737.1 L2164.0,1737.5 L2167.0,1737.8 L2170.0,1738.1 L2173.0,1738.4 L2176.0,1738.7 L2179.0,1739.1 L2182.0,1739.4 L2185.0,1739.6 L2188.0,1739.9 L2191.0,1740.2 L2194.0,1740.5 L2197.0,1740.8 L2200.0,1741.0 L2203.0,1741.3 L2206.0,1741.5 L2209.0,1741.8 L2212.0,1742.0 L2215.0,1742.3 L2215.0,1717.1 L2212.0,1716.9 L2209.0,1716.7 L2206.0,1716.5 L2203.0,1716.4 L2200.0,1716.2 L2197.0,1716.0 L2194.0,1715.8 L2191.0,1715.6 L2188.0,1715.4 L2185.0,1715.2 L2182.0,1715.0 L2179.0,1714.9 L2176.0,1714.7 L2173.0,1714.5 L2170.0,1714.3 L2167.0,1714.1 L2164.0,1713.9 L2161.0,1713.7 L2158.0,1713.6 L2155.0,1713.4 L2152.0,1713.2 L2149.0,1713.0 L2146.0,1712.8 L2143.0,1712.6 L2140.0,1712.4 L2137.0,1712.3 L2134.0,1712.1 L2131.0,1711.9 L2127.9,1711.7 L2124.9,1711.5 L2121.9,1711.3 L2118.9,1711.1 L2115.9,1710.9 L2112.9,1710.8 L2109.9,1710.6 L2106.9,1710.4 L2103.9,1710.2 L2100.9,1710.0 L2097.9,1709.8 L2094.9,1709.6 L2091.9,1709.5 L2088.9,1709.3 L2085.9,1709.1 L2082.9,1708.9 L2079.9,1708.7 L2076.9,1708.5 L2073.9,1708.3 L2070.9,1708.2 L2067.9,1708.0 L2064.9,1707.8 L2061.9,1707.6 L2058.9,1707.4 L2055.9,1707.2 L2052.9,1707.0 L2049.9,1706.8 L2046.9,1706.7 L2043.9,1706.5 L2040.9,1706.3 L2037.9,1706.1 L2034.9,1705.9 L2031.9,1705.7 L2028.9,1705.5 L2025.9,1705.4 L2022.9,1705.2 L2019.9,1705.0 L2016.9,1704.8 L2013.9,1704.6 L2010.9,1704.4 L2007.9,1704.2 L2004.9,1704.1 L2001.9,1703.9 L1998.9,1703.7 L1995.9,1703.5 L1992.9,1703.3 L1989.9,1703.1 L1986.9,1702.9 L1983.9,1702.8 L1980.9,1702.6 L1977.9,1702.4 L1974.9,1702.2 L1971.9,1702.0 L1968.9,1701.8 L1965.9,1701.6 L1962.9,1701.4 L1959.9,1701.3 L1956.8,1701.1 L1953.8,1700.9 L1950.8,1700.7 L1947.8,1700.5 L1944.8,1700.3 L1941.8,1700.1 L1938.8,1700.0 L1935.8,1699.8 L1932.8,1699.6 L1929.8,1699.4 L1926.8,1699.2 L1923.8,1699.0 L1920.8,1698.8 L1917.8,1698.7 L1914.8,1698.5 L1911.8,1698.3 L1908.8,1698.1 L1905.8,1697.9 L1902.8,1697.7 L1899.8,1697.5 L1896.8,1697.3 L1893.8,1697.2 L1890.8,1697.0 L1887.8,1696.8 L1884.8,1696.6 L1881.8,1696.4 L1878.8,1696.2 L1875.8,1696.0 L1872.8,1695.9 L1869.8,1695.7 L1866.8,1695.5 L1863.8,1695.3 L1860.8,1695.1 L1857.8,1694.9 L1854.8,1694.7 L1851.8,1694.6 L1848.8,1694.4 L1845.8,1694.2 L1842.8,1694.0 L1839.8,1693.8 L1836.8,1693.6 L1833.8,1693.4 L1830.8,1693.2 L1827.8,1693.1 L1824.8,1692.9 L1821.8,1692.7 L1818.8,1692.5 L1815.8,1692.3 L1812.8,1692.1 L1809.8,1691.9 L1806.8,1691.8 L1803.8,1691.6 L1800.8,1691.4 L1797.8,1691.2 L1794.8,1691.0 L1791.8,1690.8 L1788.8,1690.6 L1785.7,1690.5 L1782.7,1690.3 L1779.7,1690.1 L1776.7,1689.9 L1773.7,1689.7 L1770.7,1689.5 L1767.7,1689.3 L1764.7,1689.1 L1761.7,1689.0 L1758.7,1688.8 L1755.7,1688.6 L1752.7,1688.4 L1749.7,1688.2 L1746.7,1688.0 L1743.7,1687.8 L1740.7,1687.7 L1737.7,1687.5 L1734.7,1687.3 L1731.7,1687.1 L1728.7,1686.9 L1725.7,1686.7 L1722.7,1686.5 L1719.7,1686.4 L1716.7,1686.2 L1713.7,1686.0 L1710.7,1685.8 L1707.7,1685.6 L1704.7,1685.4 L1701.7,1685.2 L1698.7,1685.0 L1695.7,1684.9 L1692.7,1684.7 L1689.7,1684.5 L1686.7,1684.3 L1683.7,1684.1 L1680.7,1683.9 L1677.7,1683.7 L1674.7,1683.6 L1671.7,1683.4 L1668.7,1683.2 L1665.7,1683.0 L1662.7,1682.8 L1659.7,1682.6 L1656.7,1682.4 L1653.7,1682.3 L1650.7,1682.1 L1647.7,1681.9 L1644.7,1681.7 L1641.7,1681.5 L1638.7,1681.3 L1635.7,1681.1 L1632.7,1681.0 L1629.7,1680.8 L1626.7,1680.6 L1623.7,1680.4 L1620.7,1680.2 L1617.6,1680.0 L1614.6,1679.8 L1611.6,1679.6 L1608.6,1679.5 L1605.6,1679.3 L1602.6,1679.1 L1599.6,1678.9 L1596.6,1678.7 L1593.6,1678.5 L1590.6,1678.3 L1587.6,1678.2 L1584.6,1678.0 L1581.6,1677.8 L1578.6,1677.6 L1575.6,1677.4 L1572.6,1677.2 L1569.6,1677.0 L1566.6,1676.9 L1563.6,1676.7 L1560.6,1676.5 L1557.6,1676.3 L1554.6,1676.1 L1551.6,1675.9 L1548.6,1675.7 L1545.6,1675.5 L1542.6,1675.4 L1539.6,1675.2 L1536.6,1675.0 L1533.6,1674.8 L1530.6,1674.6 L1527.6,1674.4 L1524.6,1674.2 L1521.6,1674.1 L1518.6,1673.9 L1515.6,1673.7 L1512.6,1673.5 L1509.6,1673.3 L1506.6,1673.1 L1503.6,1672.9 L1500.6,1672.8 L1497.6,1672.6 L1494.6,1672.4 L1491.6,1672.2 L1488.6,1672.0 L1485.6,1671.8 L1482.6,1671.6 L1479.6,1671.4 L1476.6,1671.3 L1473.6,1671.1 L1470.6,1670.9 L1467.6,1670.7 L1464.6,1670.5 L1461.6,1670.3 L1458.6,1670.1 L1455.6,1670.0 L1452.6,1669.8 L1449.6,1669.6 L1446.5,1669.4 L1443.5,1669.2 L1440.5,1669.0 L1437.5,1668.8 L1434.5,1668.7 L1431.5,1668.5 L1428.5,1668.3 L1425.5,1668.1 L1422.5,1667.9 L1419.5,1667.7 L1416.5,1667.5 L1413.5,1667.3 L1410.5,1667.2 L1407.5,1667.0 L1404.5,1666.8 L1401.5,1666.6 L1398.5,1666.4 L1395.5,1666.2 L1392.5,1666.0 L1389.5,1665.9 L1386.5,1665.7 L1383.5,1665.5 L1380.5,1665.3 L1377.5,1665.1 L1374.5,1664.9 L1371.5,1664.7 L1368.5,1664.6 L1365.5,1664.4 L1362.5,1664.2 L1359.5,1664.0 L1356.5,1663.8 L1353.5,1663.6 L1350.5,1663.4 L1347.5,1663.3 L1344.5,1663.1 L1341.5,1662.9 L1338.5,1662.7 L1335.5,1662.5 L1332.5,1662.3 L1329.5,1662.1 L1326.5,1661.9 L1323.5,1661.8 L1320.5,1661.6 L1317.5,1661.4 L1314.5,1661.2 L1311.5,1661.0 L1308.5,1660.8 L1305.5,1660.6 L1302.5,1660.5 L1299.5,1660.3 L1296.5,1660.1 L1293.5,1659.9 L1290.5,1659.7 L1287.5,1659.5 L1284.5,1659.3 L1281.5,1659.2 L1278.5,1659.0 L1275.4,1658.8 L1272.4,1658.6 L1269.4,1658.4 L1266.4,1658.2 L1263.4,1658.0 L1260.4,1657.8 L1257.4,1657.7 L1254.4,1657.5 L1251.4,1657.3 L1248.4,1657.1 L1245.4,1656.9 L1242.4,1656.7 L1239.4,1656.5 L1236.4,1656.4 L1233.4,1656.2 L1230.4,1656.0 L1227.4,1655.8 L1224.4,1655.6 L1221.4,1655.4 L1218.4,1655.2 L1215.4,1655.1 L1212.4,1654.9 L1209.4,1654.7 L1206.4,1654.5 L1203.4,1654.3 L1200.4,1654.1 L1197.4,1653.9 L1194.4,1653.7 L1191.4,1653.6 L1188.4,1653.4 L1185.4,1653.2 L1182.4,1653.0 L1179.4,1652.8 L1176.4,1652.6 L1173.4,1652.4 L1170.4,1652.3 L1167.4,1652.1 L1164.4,1651.9 L1161.4,1651.7 L1158.4,1651.5 L1155.4,1651.3 L1152.4,1651.1 L1149.4,1651.0 L1146.4,1650.8 L1143.4,1650.6 L1140.4,1650.4 L1137.4,1650.2 L1134.4,1650.0 L1131.4,1649.8 L1128.4,1649.6 L1125.4,1649.5 L1122.4,1649.3 L1119.4,1649.1 L1116.4,1648.9 L1113.4,1648.7 L1110.4,1648.5 L1107.4,1648.3 L1104.3,1648.2 L1101.3,1648.0 L1098.3,1647.8 L1095.3,1647.6 L1092.3,1647.4 L1089.3,1647.2 L1086.3,1647.0 L1083.3,1646.9 L1080.3,1646.7 L1077.3,1646.5 L1074.3,1646.3 L1071.3,1646.1 L1068.3,1645.9 L1065.3,1645.7 L1062.3,1645.6 L1059.3,1645.4 L1056.3,1645.2 L1053.3,1645.0 L1050.3,1644.8 L1047.3,1644.6 L1044.3,1644.4 L1041.3,1644.2 L1038.3,1644.1 L1035.3,1643.9 L1032.3,1643.7 L1029.3,1643.5 L1026.3,1643.3 L1023.3,1643.1 L1020.3,1642.9 L1017.3,1642.8 L1014.3,1642.6 L1011.3,1642.4 L1008.3,1642.2 L1005.3,1642.0 L1002.3,1641.8 L999.3,1641.6 L996.3,1641.5 L993.3,1641.3 L990.3,1641.1 L987.3,1640.9 L984.3,1640.7 L981.3,1640.5 L978.3,1640.3 L975.3,1640.1 L972.3,1640.0 L969.3,1639.8 L966.3,1639.6 L963.3,1639.4 L960.3,1639.2 L957.3,1639.0 L954.3,1638.8 L951.3,1638.7 L948.3,1638.5 L945.3,1638.3 L942.3,1638.1 L939.3,1637.9 L936.2,1637.7 L933.2,1637.5 L930.2,1637.4 L927.2,1637.2 L924.2,1637.0 L921.2,1636.8 L918.2,1636.6 L915.2,1636.4 L912.2,1636.2 L909.2,1636.0 L906.2,1635.9 L903.2,1635.7 L900.2,1635.5 L897.2,1635.3 L894.2,1635.1 L891.2,1634.9 L888.2,1634.7 L885.2,1634.6 L882.2,1634.4 L879.2,1634.2 L876.2,1634.0 L873.2,1633.8 L870.2,1633.6 L867.2,1633.4 L864.2,1633.3 L861.2,1633.1 L858.2,1632.9 L855.2,1632.7 L852.2,1632.5 L849.2,1632.3 L846.2,1632.1 L843.2,1631.9 L840.2,1631.8 L837.2,1631.6 L834.2,1631.4 L831.2,1631.2 L828.2,1631.0 L825.2,1630.8 L822.2,1630.6 L819.2,1630.5 L816.2,1630.3 L813.2,1630.1 L810.2,1629.9 L807.2,1629.7 L804.2,1629.5 L801.2,1629.3 L798.2,1629.2 L795.2,1629.0 L792.2,1628.8 L789.2,1628.6 L786.2,1628.4 L783.2,1628.2 L780.2,1628.0 L777.2,1627.8 L774.2,1627.7 L771.2,1627.5 L768.2,1627.3 L765.1,1627.1 L762.1,1626.9 L759.1,1626.7 L756.1,1626.5 L753.1,1626.4 L750.1,1626.2 L747.1,1626.0 L744.1,1625.8 L741.1,1625.6 L738.1,1625.4 L735.1,1625.2 L732.1,1625.1 L729.1,1624.9 L726.1,1624.7 L723.1,1624.5 L720.1,1624.3 L717.1,1624.1 L714.1,1623.9 L711.1,1623.8 L708.1,1623.6 L705.1,1623.4 L702.1,1623.2 L699.1,1623.0 L696.1,1622.8 L693.1,1622.6 L690.1,1622.4 L687.1,1622.3 L684.1,1622.1 L681.1,1621.9 L678.1,1621.7 L675.1,1621.5 L672.1,1621.3 L669.1,1621.1 L666.1,1621.0 L663.1,1620.8 L660.1,1620.6 L657.1,1620.4 L654.1,1620.2 L651.1,1620.0 L648.1,1619.8 L645.1,1619.7 L642.1,1619.5 L639.1,1619.3 L636.1,1619.1 L633.1,1618.9 L630.1,1618.7 L627.1,1618.5 L624.1,1618.3 L621.1,1618.2 L618.1,1618.0 L615.1,1617.8 L612.1,1617.6 L609.1,1617.4 L606.1,1617.2 L603.1,1617.0 L600.1,1616.9 L597.1,1616.7 L594.0,1616.5 L591.0,1616.3 L588.0,1616.1 L585.0,1615.9 L582.0,1615.7 L579.0,1615.6 L576.0,1615.4 L573.0,1615.2 L570.0,1615.0 L567.0,1614.8 L564.0,1614.6 L561.0,1614.4 L558.0,1614.2 L555.0,1614.1 L552.0,1613.9 L549.0,1613.7 L546.0,1613.5 L543.0,1613.3 L540.0,1613.1 L537.0,1612.9 L534.0,1612.8 L531.0,1612.6 L528.0,1612.4 L525.0,1612.2 L522.0,1612.0 L519.0,1611.8 L516.0,1611.6 L513.0,1611.5 L510.0,1611.3Z" fill="url(#gb)"/>
<path d="M510.0,1636.9 L513.0,1637.1 L516.0,1637.3 L519.0,1637.5 L522.0,1637.7 L525.0,1637.9 L528.0,1638.1 L531.0,1638.2 L534.0,1638.4 L537.0,1638.6 L540.0,1638.8 L543.0,1639.0 L546.0,1639.2 L549.0,1639.4 L552.0,1639.6 L555.0,1639.7 L558.0,1639.9 L561.0,1640.1 L564.0,1640.3 L567.0,1640.5 L570.0,1640.7 L573.0,1640.9 L576.0,1641.0 L579.0,1641.2 L582.0,1641.4 L585.0,1641.6 L588.0,1641.8 L591.0,1642.0 L594.0,1642.2 L597.1,1642.4 L600.1,1642.5 L603.1,1642.7 L606.1,1642.9 L609.1,1643.1 L612.1,1643.3 L615.1,1643.5 L618.1,1643.7 L621.1,1643.9 L624.1,1644.0 L627.1,1644.2 L630.1,1644.4 L633.1,1644.6 L636.1,1644.8 L639.1,1645.0 L642.1,1645.2 L645.1,1645.3 L648.1,1645.5 L651.1,1645.7 L654.1,1645.9 L657.1,1646.1 L660.1,1646.3 L663.1,1646.5 L666.1,1646.7 L669.1,1646.8 L672.1,1647.0 L675.1,1647.2 L678.1,1647.4 L681.1,1647.6 L684.1,1647.8 L687.1,1648.0 L690.1,1648.2 L693.1,1648.3 L696.1,1648.5 L699.1,1648.7 L702.1,1648.9 L705.1,1649.1 L708.1,1649.3 L711.1,1649.5 L714.1,1649.6 L717.1,1649.8 L720.1,1650.0 L723.1,1650.2 L726.1,1650.4 L729.1,1650.6 L732.1,1650.8 L735.1,1651.0 L738.1,1651.1 L741.1,1651.3 L744.1,1651.5 L747.1,1651.7 L750.1,1651.9 L753.1,1652.1 L756.1,1652.3 L759.1,1652.4 L762.1,1652.6 L765.1,1652.8 L768.2,1653.0 L771.2,1653.2 L774.2,1653.4 L777.2,1653.6 L780.2,1653.8 L783.2,1653.9 L786.2,1654.1 L789.2,1654.3 L792.2,1654.5 L795.2,1654.7 L798.2,1654.9 L801.2,1655.1 L804.2,1655.3 L807.2,1655.4 L810.2,1655.6 L813.2,1655.8 L816.2,1656.0 L819.2,1656.2 L822.2,1656.4 L825.2,1656.6 L828.2,1656.7 L831.2,1656.9 L834.2,1657.1 L837.2,1657.3 L840.2,1657.5 L843.2,1657.7 L846.2,1657.9 L849.2,1658.1 L852.2,1658.2 L855.2,1658.4 L858.2,1658.6 L861.2,1658.8 L864.2,1659.0 L867.2,1659.2 L870.2,1659.4 L873.2,1659.6 L876.2,1659.7 L879.2,1659.9 L882.2,1660.1 L885.2,1660.3 L888.2,1660.5 L891.2,1660.7 L894.2,1660.9 L897.2,1661.0 L900.2,1661.2 L903.2,1661.4 L906.2,1661.6 L909.2,1661.8 L912.2,1662.0 L915.2,1662.2 L918.2,1662.4 L921.2,1662.5 L924.2,1662.7 L927.2,1662.9 L930.2,1663.1 L933.2,1663.3 L936.2,1663.5 L939.3,1663.7 L942.3,1663.8 L945.3,1664.0 L948.3,1664.2 L951.3,1664.4 L954.3,1664.6 L957.3,1664.8 L960.3,1665.0 L963.3,1665.1 L966.3,1665.3 L969.3,1665.5 L972.3,1665.7 L975.3,1665.9 L978.3,1666.1 L981.3,1666.3 L984.3,1666.4 L987.3,1666.6 L990.3,1666.8 L993.3,1667.0 L996.3,1667.2 L999.3,1667.4 L1002.3,1667.6 L1005.3,1667.7 L1008.3,1667.9 L1011.3,1668.1 L1014.3,1668.3 L1017.3,1668.5 L1020.3,1668.7 L1023.3,1668.8 L1026.3,1669.0 L1029.3,1669.2 L1032.3,1669.4 L1035.3,1669.6 L1038.3,1669.7 L1041.3,1669.9 L1044.3,1670.1 L1047.3,1670.3 L1050.3,1670.5 L1053.3,1670.6 L1056.3,1670.8 L1059.3,1671.0 L1062.3,1671.2 L1065.3,1671.3 L1068.3,1671.5 L1071.3,1671.7 L1074.3,1671.9 L1077.3,1672.0 L1080.3,1672.2 L1083.3,1672.4 L1086.3,1672.5 L1089.3,1672.7 L1092.3,1672.9 L1095.3,1673.0 L1098.3,1673.2 L1101.3,1673.3 L1104.3,1673.5 L1107.4,1673.7 L1110.4,1673.8 L1113.4,1674.0 L1116.4,1674.1 L1119.4,1674.2 L1122.4,1674.4 L1125.4,1674.5 L1128.4,1674.7 L1131.4,1674.8 L1134.4,1674.9 L1137.4,1675.0 L1140.4,1675.2 L1143.4,1675.3 L1146.4,1675.4 L1149.4,1675.5 L1152.4,1675.6 L1155.4,1675.7 L1158.4,1675.8 L1161.4,1675.9 L1164.4,1675.9 L1167.4,1676.0 L1170.4,1676.1 L1173.4,1676.1 L1176.4,1676.2 L1179.4,1676.2 L1182.4,1676.3 L1185.4,1676.3 L1188.4,1676.3 L1191.4,1676.3 L1194.4,1676.3 L1197.4,1676.3 L1200.4,1676.3 L1203.4,1676.2 L1206.4,1676.2 L1209.4,1676.1 L1212.4,1676.0 L1215.4,1676.0 L1218.4,1675.9 L1221.4,1675.7 L1224.4,1675.6 L1227.4,1675.4 L1230.4,1675.3 L1233.4,1675.1 L1236.4,1674.9 L1239.4,1674.7 L1242.4,1674.4 L1245.4,1674.1 L1248.4,1673.9 L1251.4,1673.6 L1254.4,1673.2 L1257.4,1672.9 L1260.4,1672.5 L1263.4,1672.1 L1266.4,1671.6 L1269.4,1671.2 L1272.4,1670.7 L1275.4,1670.1 L1278.5,1669.6 L1281.5,1669.0 L1284.5,1668.4 L1287.5,1667.7 L1290.5,1667.0 L1293.5,1666.3 L1296.5,1665.5 L1299.5,1664.7 L1302.5,1663.9 L1305.5,1663.0 L1308.5,1662.1 L1311.5,1661.1 L1314.5,1660.1 L1317.5,1659.0 L1320.5,1657.9 L1323.5,1656.8 L1326.5,1655.6 L1329.5,1654.3 L1332.5,1653.0 L1335.5,1651.7 L1338.5,1650.3 L1341.5,1648.8 L1344.5,1647.3 L1347.5,1645.7 L1350.5,1644.1 L1353.5,1642.4 L1356.5,1640.7 L1359.5,1638.9 L1362.5,1637.0 L1365.5,1635.1 L1368.5,1633.1 L1371.5,1631.0 L1374.5,1628.9 L1377.5,1626.7 L1380.5,1624.5 L1383.5,1622.2 L1386.5,1619.8 L1389.5,1617.4 L1392.5,1614.8 L1395.5,1612.3 L1398.5,1609.6 L1401.5,1606.9 L1404.5,1604.1 L1407.5,1601.3 L1410.5,1598.3 L1413.5,1595.3 L1416.5,1592.3 L1419.5,1589.2 L1422.5,1586.0 L1425.5,1582.7 L1428.5,1579.4 L1431.5,1576.0 L1434.5,1572.5 L1437.5,1569.0 L1440.5,1565.4 L1443.5,1561.8 L1446.5,1558.0 L1449.6,1554.3 L1452.6,1550.4 L1455.6,1546.6 L1458.6,1542.6 L1461.6,1538.6 L1464.6,1534.6 L1467.6,1530.5 L1470.6,1526.3 L1473.6,1522.1 L1476.6,1517.9 L1479.6,1513.6 L1482.6,1509.3 L1485.6,1504.9 L1488.6,1500.5 L1491.6,1496.1 L1494.6,1491.6 L1497.6,1487.1 L1500.6,1482.6 L1503.6,1478.1 L1506.6,1473.5 L1509.6,1469.0 L1512.6,1464.4 L1515.6,1459.8 L1518.6,1455.2 L1521.6,1450.7 L1524.6,1446.1 L1527.6,1441.5 L1530.6,1437.0 L1533.6,1432.4 L1536.6,1427.9 L1539.6,1423.4 L1542.6,1418.9 L1545.6,1414.5 L1548.6,1410.1 L1551.6,1405.7 L1554.6,1401.4 L1557.6,1397.1 L1560.6,1392.8 L1563.6,1388.7 L1566.6,1384.6 L1569.6,1380.5 L1572.6,1376.5 L1575.6,1372.6 L1578.6,1368.8 L1581.6,1365.0 L1584.6,1361.4 L1587.6,1357.8 L1590.6,1354.3 L1593.6,1350.9 L1596.6,1347.6 L1599.6,1344.4 L1602.6,1341.3 L1605.6,1338.3 L1608.6,1335.5 L1611.6,1332.7 L1614.6,1330.1 L1617.6,1327.6 L1620.7,1325.2 L1623.7,1323.0 L1626.7,1320.8 L1629.7,1318.9 L1632.7,1317.0 L1635.7,1315.3 L1638.7,1313.7 L1641.7,1312.3 L1644.7,1311.0 L1647.7,1309.9 L1650.7,1308.9 L1653.7,1308.0 L1656.7,1307.3 L1659.7,1306.8 L1662.7,1306.4 L1665.7,1306.2 L1668.7,1306.1 L1671.7,1306.2 L1674.7,1306.4 L1677.7,1306.8 L1680.7,1307.3 L1683.7,1308.0 L1686.7,1308.8 L1689.7,1309.8 L1692.7,1310.9 L1695.7,1312.2 L1698.7,1313.6 L1701.7,1315.2 L1704.7,1316.9 L1707.7,1318.8 L1710.7,1320.8 L1713.7,1323.0 L1716.7,1325.2 L1719.7,1327.7 L1722.7,1330.2 L1725.7,1332.9 L1728.7,1335.7 L1731.7,1338.6 L1734.7,1341.7 L1737.7,1344.9 L1740.7,1348.2 L1743.7,1351.6 L1746.7,1355.1 L1749.7,1358.7 L1752.7,1362.4 L1755.7,1366.2 L1758.7,1370.1 L1761.7,1374.1 L1764.7,1378.2 L1767.7,1382.4 L1770.7,1386.6 L1773.7,1390.9 L1776.7,1395.3 L1779.7,1399.8 L1782.7,1404.3 L1785.7,1408.9 L1788.8,1413.5 L1791.8,1418.2 L1794.8,1422.9 L1797.8,1427.7 L1800.8,1432.5 L1803.8,1437.3 L1806.8,1442.1 L1809.8,1447.0 L1812.8,1451.9 L1815.8,1456.9 L1818.8,1461.8 L1821.8,1466.8 L1824.8,1471.7 L1827.8,1476.7 L1830.8,1481.6 L1833.8,1486.6 L1836.8,1491.5 L1839.8,1496.4 L1842.8,1501.3 L1845.8,1506.2 L1848.8,1511.1 L1851.8,1516.0 L1854.8,1520.8 L1857.8,1525.6 L1860.8,1530.3 L1863.8,1535.0 L1866.8,1539.7 L1869.8,1544.4 L1872.8,1549.0 L1875.8,1553.5 L1878.8,1558.0 L1881.8,1562.5 L1884.8,1566.9 L1887.8,1571.2 L1890.8,1575.5 L1893.8,1579.7 L1896.8,1583.9 L1899.8,1588.0 L1902.8,1592.1 L1905.8,1596.1 L1908.8,1600.0 L1911.8,1603.9 L1914.8,1607.7 L1917.8,1611.4 L1920.8,1615.1 L1923.8,1618.7 L1926.8,1622.3 L1929.8,1625.7 L1932.8,1629.1 L1935.8,1632.5 L1938.8,1635.7 L1941.8,1638.9 L1944.8,1642.0 L1947.8,1645.1 L1950.8,1648.1 L1953.8,1651.0 L1956.8,1653.9 L1959.9,1656.7 L1962.9,1659.4 L1965.9,1662.0 L1968.9,1664.6 L1971.9,1667.2 L1974.9,1669.6 L1977.9,1672.0 L1980.9,1674.4 L1983.9,1676.6 L1986.9,1678.8 L1989.9,1681.0 L1992.9,1683.1 L1995.9,1685.1 L1998.9,1687.1 L2001.9,1689.0 L2004.9,1690.9 L2007.9,1692.7 L2010.9,1694.4 L2013.9,1696.1 L2016.9,1697.8 L2019.9,1699.4 L2022.9,1700.9 L2025.9,1702.4 L2028.9,1703.9 L2031.9,1705.3 L2034.9,1706.7 L2037.9,1708.0 L2040.9,1709.3 L2043.9,1710.5 L2046.9,1711.7 L2049.9,1712.9 L2052.9,1714.0 L2055.9,1715.1 L2058.9,1716.1 L2061.9,1717.1 L2064.9,1718.1 L2067.9,1719.1 L2070.9,1720.0 L2073.9,1720.9 L2076.9,1721.7 L2079.9,1722.6 L2082.9,1723.4 L2085.9,1724.1 L2088.9,1724.9 L2091.9,1725.6 L2094.9,1726.3 L2097.9,1727.0 L2100.9,1727.6 L2103.9,1728.3 L2106.9,1728.9 L2109.9,1729.5 L2112.9,1730.0 L2115.9,1730.6 L2118.9,1731.1 L2121.9,1731.6 L2124.9,1732.1 L2127.9,1732.6 L2131.0,1733.1 L2134.0,1733.5 L2137.0,1734.0 L2140.0,1734.4 L2143.0,1734.8 L2146.0,1735.2 L2149.0,1735.6 L2152.0,1736.0 L2155.0,1736.4 L2158.0,1736.8 L2161.0,1737.1 L2164.0,1737.5 L2167.0,1737.8 L2170.0,1738.1 L2173.0,1738.4 L2176.0,1738.7 L2179.0,1739.1 L2182.0,1739.4 L2185.0,1739.6 L2188.0,1739.9 L2191.0,1740.2 L2194.0,1740.5 L2197.0,1740.8 L2200.0,1741.0 L2203.0,1741.3 L2206.0,1741.5 L2209.0,1741.8 L2212.0,1742.0 L2215.0,1742.3" fill="none" stroke="#5B92CB" stroke-width="7"/>
<line x1="510.0" y1="1636.9" x2="2215.0" y2="1743.1" stroke="#7A4444" stroke-width="7.5"/>
<line x1="199.0" y1="1592.0" x2="2344.6" y2="1725.1" stroke="#5B92CB" stroke-width="7"/>
<path d="M198.9,1593.5 L201.7,1594.0 L204.4,1594.4 L207.2,1594.7 L209.9,1595.1 L212.7,1595.5 L215.4,1595.9 L218.2,1596.3 L220.9,1596.7 L223.7,1597.0 L226.4,1597.4 L229.2,1597.8 L231.9,1598.1 L234.7,1598.5 L237.4,1598.8 L240.2,1599.2 L242.9,1599.5 L245.6,1599.9 L248.4,1600.2 L251.1,1600.5 L253.9,1600.9 L256.6,1601.2 L259.3,1601.5 L262.1,1601.9 L264.8,1602.2 L267.5,1602.5 L270.2,1602.9 L273.0,1603.2 L275.7,1603.5 L278.4,1603.8 L281.2,1604.2 L283.9,1604.5 L286.6,1604.8 L289.3,1605.1 L292.1,1605.5 L294.8,1605.8 L297.5,1606.1 L300.2,1606.4 L302.9,1606.8 L305.7,1607.1 L308.4,1607.4 L311.1,1607.7 L313.8,1608.1 L316.5,1608.4 L319.3,1608.7 L322.0,1609.1 L324.7,1609.4 L327.4,1609.8 L330.1,1610.1 L332.8,1610.4 L335.6,1610.8 L338.3,1611.1 L341.0,1611.5 L343.7,1611.9 L346.4,1612.2 L349.2,1612.6 L351.9,1612.9 L354.6,1613.3 L357.3,1613.7 L360.0,1614.1 L362.7,1614.5 L365.5,1614.8 L368.2,1615.2 L370.9,1615.6 L373.6,1616.0 L376.3,1616.5 L379.1,1616.9 L381.8,1617.3 L384.5,1617.7 L387.2,1618.1 L389.9,1618.6 L392.7,1619.0 L395.4,1619.5 L398.1,1619.9 L400.8,1620.4 L403.6,1620.9 L406.3,1621.3 L409.0,1621.8 L411.7,1622.3 L414.5,1622.8 L417.2,1623.3 L419.9,1623.8 L422.6,1624.4 L425.4,1624.9 L428.1,1625.4 L430.8,1626.0 L433.6,1626.5 L436.3,1627.1 L439.0,1627.6 L441.8,1628.1 L444.5,1628.7 L447.3,1629.2 L450.0,1629.8 L452.7,1630.3 L455.5,1630.8 L458.2,1631.4 L460.9,1631.9 L463.7,1632.4 L466.4,1632.9 L469.2,1633.4 L471.9,1633.8 L474.6,1634.3 L477.4,1634.7 L480.1,1635.2 L482.9,1635.6 L485.6,1636.0 L488.4,1636.3 L491.1,1636.7 L493.8,1637.0 L496.6,1637.3 L499.3,1637.6 L502.1,1637.8 L504.8,1638.1 L507.6,1638.2 L510.3,1638.4 L513.0,1638.6 L515.8,1638.7 L518.5,1638.7 L521.3,1638.8 L524.0,1638.8 L526.8,1638.7 L529.5,1638.7 L532.2,1638.6 L535.0,1638.4 L537.7,1638.2 L540.5,1638.0 L543.2,1637.7 L545.9,1637.4 L548.7,1637.0 L551.4,1636.6 L554.1,1636.2 L556.8,1635.7 L559.6,1635.1 L562.3,1634.5 L565.0,1633.9 L567.7,1633.2 L570.3,1632.5 L573.0,1631.8 L575.6,1631.0 L578.3,1630.1 L580.9,1629.2 L583.5,1628.3 L586.1,1627.3 L588.6,1626.3 L591.2,1625.2 L593.7,1624.1 L596.2,1623.0 L598.6,1621.8 L601.1,1620.5 L603.5,1619.3 L605.9,1617.9 L608.2,1616.6 L610.6,1615.2 L612.9,1613.7 L615.1,1612.2 L617.3,1610.7 L619.5,1609.1 L621.7,1607.5 L623.8,1605.8 L625.9,1604.1 L627.9,1602.3 L629.9,1600.6 L631.9,1598.7 L633.8,1596.8 L635.6,1594.9 L637.4,1593.0 L639.2,1591.0 L640.9,1588.9 L642.6,1586.8 L644.2,1584.7 L645.8,1582.5 L647.3,1580.3 L648.8,1578.1 L650.3,1575.8 L651.7,1573.5 L653.0,1571.1 L654.4,1568.8 L655.6,1566.4 L656.9,1563.9 L658.1,1561.5 L659.3,1559.0 L660.4,1556.5 L661.6,1553.9 L662.7,1551.4 L663.7,1548.8 L664.8,1546.2 L665.8,1543.6 L666.8,1541.0 L667.7,1538.3 L668.7,1535.7 L669.6,1533.0 L670.5,1530.3 L671.4,1527.6 L672.3,1524.9 L673.1,1522.2 L674.0,1519.4 L674.8,1516.7 L675.6,1514.0 L676.5,1511.3 L677.3,1508.5 L678.1,1505.8 L678.9,1503.0 L679.7,1500.3 L680.5,1497.6 L681.2,1494.9 L682.0,1492.2 L682.8,1489.4 L683.6,1486.7 L684.4,1484.0 L685.2,1481.4 L686.0,1478.7 L686.8,1476.0 L687.6,1473.3 L688.4,1470.7 L689.2,1468.0 L690.0,1465.3 L690.8,1462.7 L691.6,1460.1 L692.4,1457.4 L693.2,1454.8 L693.9,1452.1 L694.7,1449.5 L695.5,1446.9 L696.3,1444.3 L697.1,1441.7 L697.9,1439.0 L698.7,1436.4 L699.5,1433.8 L700.3,1431.2 L701.1,1428.6 L701.9,1426.0 L702.7,1423.4 L703.4,1420.8 L704.2,1418.2 L705.0,1415.6 L705.8,1413.0 L706.6,1410.4 L707.4,1407.8 L708.1,1405.2 L708.9,1402.6 L709.7,1400.0 L710.5,1397.5 L711.2,1394.9 L712.0,1392.3 L712.8,1389.7 L713.5,1387.1 L714.3,1384.5 L715.1,1381.9 L715.8,1379.3 L716.6,1376.7 L717.3,1374.1 L718.1,1371.5 L718.8,1368.8 L719.6,1366.2 L720.3,1363.6 L721.0,1361.0 L721.8,1358.4 L722.5,1355.8 L723.2,1353.1 L724.0,1350.5 L724.7,1347.9 L725.4,1345.2 L726.1,1342.6 L726.8,1339.9 L727.5,1337.3 L728.2,1334.6 L728.9,1331.9 L729.6,1329.3 L730.3,1326.6 L731.0,1323.9 L731.7,1321.2 L732.4,1318.5 L733.1,1315.8 L733.7,1313.1 L734.4,1310.4 L735.1,1307.7 L735.7,1305.0 L736.4,1302.3 L737.1,1299.6 L737.7,1296.8 L738.4,1294.1 L739.0,1291.4 L739.6,1288.6 L740.3,1285.9 L740.9,1283.2 L741.5,1280.4 L742.2,1277.7 L742.8,1275.0 L743.4,1272.2 L744.0,1269.5 L744.6,1266.7 L745.3,1264.0 L745.9,1261.3 L746.5,1258.5 L747.1,1255.8 L747.7,1253.0 L748.3,1250.3 L748.8,1247.5 L749.4,1244.8 L750.0,1242.1 L750.6,1239.3 L751.2,1236.6 L751.8,1233.9 L752.3,1231.1 L752.9,1228.4 L753.5,1225.7 L754.0,1223.0 L754.6,1220.3 L755.1,1217.6 L755.7,1214.8 L756.2,1212.1 L756.8,1209.4 L757.3,1206.7 L757.9,1204.1 L758.4,1201.4 L759.0,1198.7 L759.5,1196.0 L760.0,1193.3 L760.6,1190.7 L761.1,1188.0 L761.6,1185.4 L762.1,1182.7 L762.6,1180.1 L763.2,1177.5 L763.7,1174.8 L764.2,1172.2 L764.7,1169.6 L765.2,1167.0 L765.7,1164.4 L766.3,1161.8 L766.8,1159.2 L767.3,1156.6 L767.9,1154.0 L768.5,1151.5 L769.0,1148.9 L769.6,1146.3 L770.3,1143.7 L770.9,1141.1 L771.6,1138.5 L772.2,1135.9 L773.0,1133.3 L773.7,1130.6 L774.5,1128.0 L775.3,1125.4 L776.1,1122.8 L777.0,1120.1 L777.9,1117.4 L778.8,1114.8 L779.8,1112.1 L780.8,1109.4 L781.9,1106.7 L783.0,1104.0 L784.2,1101.2 L785.4,1098.5 L786.7,1095.7 L788.0,1092.9 L789.4,1090.1 L790.8,1087.3 L792.3,1084.6 L793.8,1081.9 L795.3,1079.2 L796.9,1076.6 L798.6,1074.1 L800.3,1071.7 L802.0,1069.4 L803.8,1067.3 L805.6,1065.3 L807.4,1063.5 L809.3,1061.8 L811.2,1060.4 L813.1,1059.2 L815.1,1058.2 L817.1,1057.5 L819.1,1057.0 L821.1,1056.8 L823.2,1056.9 L825.2,1057.3 L827.3,1057.9 L829.4,1058.8 L831.5,1059.9 L833.6,1061.2 L835.7,1062.7 L837.9,1064.4 L840.0,1066.3 L842.1,1068.3 L844.2,1070.5 L846.3,1072.7 L848.4,1075.1 L850.5,1077.6 L852.6,1080.1 L854.6,1082.7 L856.7,1085.4 L858.7,1088.1 L860.7,1090.8 L862.7,1093.5 L864.6,1096.2 L866.6,1098.8 L868.5,1101.4 L870.4,1103.8 L872.4,1106.1 L874.3,1108.3 L876.3,1110.3 L878.2,1112.0 L880.2,1113.6 L882.1,1114.9 L884.1,1115.9 L886.2,1116.7 L888.2,1117.1 L890.3,1117.1 L892.4,1116.8 L894.5,1116.2 L896.6,1115.2 L898.8,1113.9 L900.9,1112.4 L903.0,1110.6 L905.1,1108.6 L907.1,1106.4 L909.1,1104.1 L911.0,1101.7 L912.8,1099.2 L914.5,1096.6 L916.1,1094.1 L917.6,1091.5 L919.0,1088.9 L920.3,1086.3 L921.6,1083.7 L922.7,1081.2 L923.8,1078.6 L924.8,1076.0 L925.7,1073.4 L926.7,1070.8 L927.5,1068.2 L928.4,1065.6 L929.2,1063.0 L930.0,1060.4 L930.8,1057.8 L931.6,1055.2 L932.4,1052.5 L933.2,1049.9 L933.9,1047.3 L934.7,1044.7 L935.4,1042.0 L936.2,1039.4 L936.9,1036.8 L937.6,1034.1 L938.3,1031.5 L939.0,1028.9 L939.7,1026.2 L940.4,1023.6 L941.1,1020.9 L941.8,1018.2 L942.4,1015.6 L943.1,1012.9 L943.8,1010.3 L944.4,1007.6 L945.0,1004.9 L945.7,1002.3 L946.3,999.6 L946.9,996.9 L947.5,994.2 L948.1,991.6 L948.7,988.9 L949.3,986.2 L949.9,983.5 L950.5,980.8 L951.1,978.1 L951.6,975.4 L952.2,972.8 L952.7,970.1 L953.3,967.4 L953.8,964.7 L954.4,962.0 L954.9,959.3 L955.5,956.6 L956.0,953.9 L956.5,951.2 L957.0,948.4 L957.5,945.7 L958.1,943.0 L958.6,940.3 L959.1,937.6 L959.6,934.9 L960.1,932.2 L960.6,929.5 L961.1,926.8 L961.6,924.0 L962.0,921.3 L962.5,918.6 L963.0,915.9 L963.5,913.2 L964.0,910.4 L964.4,907.7 L964.9,905.0 L965.4,902.3 L965.8,899.6 L966.3,896.8 L966.8,894.1 L967.2,891.4 L967.7,888.7 L968.2,885.9 L968.6,883.2 L969.1,880.5 L969.5,877.8 L970.0,875.0 L970.4,872.3 L970.9,869.6 L971.4,866.9 L971.8,864.1 L972.3,861.4 L972.7,858.7 L973.2,856.0 L973.6,853.2 L974.1,850.5 L974.6,847.8 L975.0,845.1 L975.5,842.3 L975.9,839.6 L976.4,836.9 L976.9,834.2 L977.3,831.5 L977.8,828.7 L978.3,826.0 L978.7,823.3 L979.2,820.6 L979.7,817.9 L980.1,815.2 L980.6,812.4 L981.1,809.7 L981.6,807.0 L982.0,804.3 L982.5,801.6 L983.0,798.9 L983.5,796.2 L983.9,793.4 L984.4,790.7 L984.9,788.0 L985.4,785.3 L985.9,782.6 L986.3,779.9 L986.8,777.2 L987.3,774.5 L987.8,771.7 L988.3,769.0 L988.8,766.3 L989.3,763.6 L989.7,760.9 L990.2,758.2 L990.7,755.5 L991.2,752.8 L991.7,750.1 L992.2,747.4 L992.7,744.7 L993.1,741.9 L993.6,739.2 L994.1,736.5 L994.6,733.8 L995.1,731.1 L995.6,728.4 L996.1,725.7 L996.5,723.0 L997.0,720.3 L997.5,717.6 L998.0,714.9 L998.5,712.2 L999.0,709.4 L999.5,706.7 L999.9,704.0 L1000.4,701.3 L1000.9,698.6 L1001.4,695.9 L1001.9,693.2 L1002.4,690.5 L1002.8,687.8 L1003.3,685.1 L1003.8,682.4 L1004.3,679.6 L1004.8,676.9 L1005.2,674.2 L1005.7,671.5 L1006.2,668.8 L1006.7,666.1 L1007.1,663.4 L1007.6,660.7 L1008.1,658.0 L1008.6,655.2 L1009.0,652.5 L1009.5,649.8 L1010.0,647.1 L1010.4,644.4 L1010.9,641.7 L1011.4,639.0 L1011.8,636.2 L1012.3,633.5 L1012.8,630.8 L1013.2,628.1 L1013.7,625.4 L1014.2,622.6 L1014.6,619.9 L1015.1,617.2 L1015.5,614.5 L1016.0,611.8 L1016.4,609.0 L1016.9,606.3 L1017.3,603.6 L1017.8,600.9 L1018.2,598.2 L1018.7,595.4 L1019.1,592.7 L1019.5,590.0 L1020.0,587.3 L1020.4,584.5 L1020.8,581.8 L1021.3,579.1 L1021.7,576.3 L1022.1,573.6 L1022.6,570.9 L1023.0,568.1 L1023.4,565.4 L1023.8,562.7 L1024.3,559.9 L1024.7,557.2 L1025.1,554.5 L1025.5,551.7 L1025.9,549.0 L1026.3,546.3 L1026.7,543.5 L1027.1,540.8 L1027.6,538.0 L1028.0,535.3 L1028.4,532.6 L1028.8,529.8 L1029.2,527.1 L1029.6,524.3 L1030.0,521.6 L1030.4,518.9 L1030.8,516.1 L1031.2,513.4 L1031.7,510.7 L1032.1,507.9 L1032.5,505.2 L1032.9,502.5 L1033.3,499.7 L1033.8,497.0 L1034.2,494.3 L1034.6,491.5 L1035.0,488.8 L1035.5,486.1 L1035.9,483.3 L1036.3,480.6 L1036.8,477.9 L1037.2,475.2 L1037.7,472.5 L1038.1,469.7 L1038.6,467.0 L1039.1,464.3 L1039.5,461.6 L1040.0,458.9 L1040.5,456.2 L1041.0,453.5 L1041.5,450.8 L1041.9,448.1 L1042.4,445.4 L1042.9,442.7 L1043.5,440.0 L1044.0,437.3 L1044.5,434.6 L1045.0,431.9 L1045.6,429.3 L1046.1,426.6 L1046.7,423.9 L1047.2,421.2 L1047.8,418.6 L1048.4,415.9 L1048.9,413.2 L1049.5,410.6 L1050.1,407.9 L1050.7,405.3 L1051.3,402.6 L1052.0,400.0 L1052.6,397.4 L1053.2,394.7 L1053.9,392.1 L1054.5,389.5 L1055.2,386.8 L1055.9,384.2 L1056.6,381.6 L1057.3,378.9 L1058.0,376.3 L1058.7,373.7 L1059.4,371.0 L1060.2,368.4 L1060.9,365.7 L1061.7,363.1 L1062.5,360.4 L1063.3,357.7 L1064.1,355.0 L1064.9,352.3 L1065.7,349.6 L1066.6,346.9 L1067.4,344.2 L1068.4,341.5 L1069.3,338.8 L1070.3,336.1 L1071.4,333.4 L1072.6,330.7 L1073.8,328.1 L1075.2,325.5 L1076.6,322.9 L1078.2,320.4 L1079.9,317.9 L1081.7,315.4 L1083.6,313.1 L1085.6,310.8 L1087.8,308.7 L1089.9,306.7 L1092.2,305.1 L1094.4,303.7 L1096.7,302.7 L1098.9,302.0 L1101.1,301.8 L1103.2,302.0 L1105.2,302.6 L1107.2,303.6 L1109.2,305.0 L1111.1,306.6 L1112.9,308.4 L1114.7,310.5 L1116.5,312.7 L1118.2,315.0 L1119.9,317.3 L1121.5,319.7 L1123.1,322.2 L1124.7,324.6 L1126.2,327.0 L1127.8,329.5 L1129.2,331.9 L1130.7,334.4 L1132.1,336.8 L1133.5,339.3 L1134.8,341.8 L1136.2,344.3 L1137.5,346.8 L1138.7,349.3 L1140.0,351.8 L1141.2,354.3 L1142.4,356.8 L1143.6,359.3 L1144.7,361.9 L1145.8,364.4 L1146.9,367.0 L1148.0,369.5 L1149.1,372.1 L1150.1,374.7 L1151.1,377.3 L1152.1,379.8 L1153.1,382.4 L1154.0,385.0 L1155.0,387.6 L1155.9,390.2 L1156.8,392.8 L1157.7,395.4 L1158.6,398.0 L1159.4,400.7 L1160.3,403.3 L1161.1,405.9 L1161.9,408.5 L1162.7,411.2 L1163.5,413.8 L1164.3,416.4 L1165.1,419.1 L1165.8,421.7 L1166.6,424.4 L1167.3,427.0 L1168.1,429.7 L1168.8,432.3 L1169.5,435.0 L1170.2,437.7 L1171.0,440.3 L1171.7,443.0 L1172.4,445.6 L1173.1,448.3 L1173.8,451.0 L1174.5,453.6 L1175.1,456.3 L1175.8,459.0 L1176.5,461.6 L1177.2,464.3 L1177.9,467.0 L1178.5,469.7 L1179.2,472.3 L1179.9,475.0 L1180.5,477.7 L1181.2,480.4 L1181.9,483.0 L1182.5,485.7 L1183.2,488.4 L1183.8,491.1 L1184.5,493.8 L1185.1,496.4 L1185.8,499.1 L1186.4,501.8 L1187.1,504.5 L1187.7,507.2 L1188.3,509.9 L1189.0,512.5 L1189.6,515.2 L1190.2,517.9 L1190.9,520.6 L1191.5,523.3 L1192.1,526.0 L1192.7,528.7 L1193.4,531.4 L1194.0,534.0 L1194.6,536.7 L1195.2,539.4 L1195.8,542.1 L1196.5,544.8 L1197.1,547.5 L1197.7,550.2 L1198.3,552.9 L1198.9,555.6 L1199.5,558.3 L1200.2,561.0 L1200.8,563.7 L1201.4,566.3 L1202.0,569.0 L1202.6,571.7 L1203.2,574.4 L1203.8,577.1 L1204.4,579.8 L1205.0,582.5 L1205.7,585.2 L1206.3,587.9 L1206.9,590.6 L1207.5,593.3 L1208.1,596.0 L1208.7,598.7 L1209.3,601.4 L1209.9,604.0 L1210.6,606.7 L1211.2,609.4 L1211.8,612.1 L1212.4,614.8 L1213.0,617.5 L1213.6,620.2 L1214.3,622.9 L1214.9,625.6 L1215.5,628.3 L1216.1,631.0 L1216.7,633.6 L1217.4,636.3 L1218.0,639.0 L1218.6,641.7 L1219.2,644.4 L1219.9,647.1 L1220.5,649.8 L1221.1,652.5 L1221.8,655.1 L1222.4,657.8 L1223.1,660.5 L1223.7,663.2 L1224.3,665.9 L1225.0,668.6 L1225.6,671.2 L1226.3,673.9 L1226.9,676.6 L1227.6,679.3 L1228.3,681.9 L1228.9,684.6 L1229.6,687.3 L1230.3,690.0 L1230.9,692.6 L1231.6,695.3 L1232.3,698.0 L1233.0,700.7 L1233.6,703.3 L1234.3,706.0 L1235.0,708.7 L1235.7,711.3 L1236.4,714.0 L1237.1,716.7 L1237.8,719.3 L1238.5,722.0 L1239.2,724.6 L1239.9,727.3 L1240.6,730.0 L1241.4,732.6 L1242.1,735.3 L1242.8,737.9 L1243.6,740.6 L1244.3,743.2 L1245.0,745.9 L1245.8,748.5 L1246.5,751.2 L1247.3,753.8 L1248.1,756.5 L1248.8,759.1 L1249.6,761.8 L1250.4,764.4 L1251.1,767.0 L1251.9,769.7 L1252.7,772.3 L1253.5,774.9 L1254.3,777.6 L1255.1,780.2 L1255.9,782.8 L1256.7,785.4 L1257.6,788.1 L1258.4,790.7 L1259.2,793.3 L1260.1,795.9 L1260.9,798.5 L1261.7,801.2 L1262.6,803.8 L1263.5,806.4 L1264.3,809.0 L1265.2,811.6 L1266.1,814.2 L1267.0,816.8 L1267.8,819.4 L1268.7,822.0 L1269.6,824.6 L1270.6,827.2 L1271.5,829.8 L1272.4,832.4 L1273.3,835.0 L1274.2,837.6 L1275.2,840.2 L1276.1,842.8 L1277.0,845.3 L1278.0,847.9 L1278.9,850.5 L1279.9,853.1 L1280.9,855.7 L1281.8,858.2 L1282.8,860.8 L1283.8,863.4 L1284.7,866.0 L1285.7,868.5 L1286.7,871.1 L1287.7,873.7 L1288.7,876.2 L1289.7,878.8 L1290.7,881.4 L1291.7,883.9 L1292.7,886.5 L1293.7,889.1 L1294.7,891.6 L1295.7,894.2 L1296.7,896.8 L1297.7,899.3 L1298.8,901.9 L1299.8,904.4 L1300.8,907.0 L1301.9,909.6 L1302.9,912.1 L1303.9,914.7 L1305.0,917.2 L1306.0,919.8 L1307.0,922.3 L1308.1,924.9 L1309.1,927.4 L1310.2,930.0 L1311.2,932.5 L1312.3,935.1 L1313.3,937.6 L1314.4,940.2 L1315.4,942.7 L1316.5,945.3 L1317.5,947.9 L1318.6,950.4 L1319.6,953.0 L1320.7,955.5 L1321.8,958.1 L1322.8,960.6 L1323.9,963.2 L1324.9,965.7 L1326.0,968.3 L1327.0,970.8 L1328.1,973.4 L1329.2,975.9 L1330.2,978.5 L1331.3,981.0 L1332.3,983.6 L1333.4,986.1 L1334.5,988.7 L1335.5,991.2 L1336.6,993.8 L1337.6,996.3 L1338.7,998.9 L1339.7,1001.4 L1340.8,1004.0 L1341.8,1006.5 L1342.9,1009.1 L1343.9,1011.6 L1345.0,1014.2 L1346.0,1016.7 L1347.1,1019.3 L1348.1,1021.9 L1349.2,1024.4 L1350.2,1027.0 L1351.3,1029.5 L1352.3,1032.1 L1353.4,1034.6 L1354.4,1037.2 L1355.4,1039.8 L1356.5,1042.3 L1357.5,1044.9 L1358.6,1047.4 L1359.6,1050.0 L1360.6,1052.6 L1361.7,1055.1 L1362.7,1057.7 L1363.8,1060.2 L1364.8,1062.8 L1365.8,1065.3 L1366.9,1067.9 L1367.9,1070.5 L1368.9,1073.0 L1370.0,1075.6 L1371.0,1078.1 L1372.0,1080.7 L1373.1,1083.3 L1374.1,1085.8 L1375.1,1088.4 L1376.2,1090.9 L1377.2,1093.5 L1378.2,1096.0 L1379.3,1098.6 L1380.3,1101.1 L1381.3,1103.7 L1382.4,1106.3 L1383.4,1108.8 L1384.4,1111.4 L1385.5,1113.9 L1386.5,1116.5 L1387.5,1119.0 L1388.6,1121.6 L1389.6,1124.1 L1390.6,1126.7 L1391.6,1129.2 L1392.7,1131.8 L1393.7,1134.3 L1394.7,1136.9 L1395.8,1139.4 L1396.8,1142.0 L1397.8,1144.5 L1398.9,1147.1 L1399.9,1149.6 L1400.9,1152.2 L1402.0,1154.7 L1403.0,1157.3 L1404.0,1159.8 L1405.0,1162.4 L1406.1,1164.9 L1407.1,1167.4 L1408.1,1170.0 L1409.2,1172.5 L1410.2,1175.1 L1411.2,1177.6 L1412.3,1180.1 L1413.3,1182.7 L1414.4,1185.2 L1415.4,1187.8 L1416.4,1190.3 L1417.5,1192.8 L1418.5,1195.3 L1419.5,1197.9 L1420.6,1200.4 L1421.6,1202.9 L1422.7,1205.4 L1423.8,1208.0 L1424.8,1210.5 L1425.9,1213.0 L1427.0,1215.5 L1428.1,1218.0 L1429.3,1220.5 L1430.4,1223.0 L1431.6,1225.5 L1432.7,1227.9 L1433.9,1230.4 L1435.1,1232.8 L1436.4,1235.3 L1437.6,1237.7 L1438.9,1240.2 L1440.2,1242.6 L1441.5,1245.0 L1442.8,1247.4 L1444.2,1249.8 L1445.6,1252.2 L1447.0,1254.6 L1448.5,1256.9 L1450.0,1259.3 L1451.5,1261.6 L1453.0,1263.9 L1454.6,1266.3 L1456.2,1268.6 L1457.9,1270.8 L1459.6,1273.1 L1461.3,1275.4 L1463.1,1277.6 L1464.9,1279.8 L1466.7,1282.0 L1468.6,1284.2 L1470.6,1286.3 L1472.5,1288.4 L1474.5,1290.5 L1476.5,1292.5 L1478.6,1294.5 L1480.7,1296.5 L1482.8,1298.4 L1484.9,1300.2 L1487.1,1302.0 L1489.3,1303.7 L1491.5,1305.4 L1493.8,1307.0 L1496.1,1308.6 L1498.4,1310.1 L1500.7,1311.5 L1503.0,1312.8 L1505.4,1314.0 L1507.8,1315.2 L1510.2,1316.3 L1512.7,1317.3 L1515.1,1318.2 L1517.6,1319.0 L1520.1,1319.7 L1522.6,1320.3 L1525.1,1320.8 L1527.7,1321.1 L1530.2,1321.4 L1532.8,1321.6 L1535.4,1321.6 L1538.0,1321.6 L1540.6,1321.4 L1543.2,1321.2 L1545.8,1320.8 L1548.4,1320.4 L1551.1,1319.9 L1553.7,1319.3 L1556.4,1318.6 L1559.0,1317.9 L1561.7,1317.1 L1564.4,1316.3 L1567.1,1315.4 L1569.8,1314.4 L1572.5,1313.5 L1575.2,1312.5 L1577.9,1311.4 L1580.6,1310.3 L1583.3,1309.3 L1586.0,1308.2 L1588.7,1307.0 L1591.4,1305.9 L1594.1,1304.8 L1596.8,1303.7 L1599.5,1302.6 L1602.2,1301.5 L1604.9,1300.5 L1607.6,1299.5 L1610.3,1298.5 L1613.0,1297.5 L1615.7,1296.6 L1618.4,1295.7 L1621.1,1294.9 L1623.7,1294.1 L1626.4,1293.4 L1629.1,1292.8 L1631.7,1292.2 L1634.4,1291.8 L1637.0,1291.4 L1639.7,1291.0 L1642.3,1290.8 L1644.9,1290.7 L1647.5,1290.7 L1650.1,1290.8 L1652.7,1291.0 L1655.3,1291.3 L1657.9,1291.8 L1660.5,1292.4 L1663.0,1293.0 L1665.5,1293.8 L1668.1,1294.7 L1670.6,1295.7 L1673.1,1296.8 L1675.6,1297.9 L1678.0,1299.1 L1680.5,1300.4 L1682.9,1301.8 L1685.3,1303.2 L1687.7,1304.7 L1690.1,1306.2 L1692.4,1307.8 L1694.8,1309.4 L1697.1,1311.0 L1699.4,1312.7 L1701.6,1314.3 L1703.9,1316.0 L1706.1,1317.7 L1708.3,1319.5 L1710.5,1321.2 L1712.7,1323.0 L1714.8,1324.7 L1716.9,1326.5 L1719.0,1328.3 L1721.1,1330.2 L1723.2,1332.0 L1725.2,1333.9 L1727.2,1335.7 L1729.2,1337.6 L1731.2,1339.5 L1733.2,1341.5 L1735.1,1343.4 L1737.0,1345.3 L1739.0,1347.3 L1740.9,1349.3 L1742.7,1351.3 L1744.6,1353.3 L1746.4,1355.3 L1748.3,1357.3 L1750.1,1359.4 L1751.9,1361.4 L1753.7,1363.5 L1755.4,1365.6 L1757.2,1367.7 L1758.9,1369.8 L1760.6,1371.9 L1762.3,1374.0 L1764.0,1376.2 L1765.7,1378.3 L1767.4,1380.5 L1769.1,1382.7 L1770.7,1384.9 L1772.3,1387.1 L1774.0,1389.3 L1775.6,1391.5 L1777.2,1393.7 L1778.7,1395.9 L1780.3,1398.2 L1781.9,1400.4 L1783.4,1402.7 L1785.0,1404.9 L1786.5,1407.2 L1788.1,1409.5 L1789.6,1411.8 L1791.1,1414.1 L1792.6,1416.4 L1794.1,1418.7 L1795.6,1421.0 L1797.0,1423.3 L1798.5,1425.7 L1800.0,1428.0 L1801.4,1430.3 L1802.9,1432.7 L1804.3,1435.0 L1805.8,1437.4 L1807.2,1439.8 L1808.6,1442.1 L1810.0,1444.5 L1811.5,1446.9 L1812.9,1449.3 L1814.3,1451.6 L1815.7,1454.0 L1817.1,1456.4 L1818.5,1458.8 L1819.9,1461.2 L1821.3,1463.6 L1822.6,1466.0 L1824.0,1468.4 L1825.4,1470.8 L1826.8,1473.2 L1828.2,1475.6 L1829.6,1478.0 L1830.9,1480.4 L1832.3,1482.8 L1833.7,1485.3 L1835.1,1487.7 L1836.4,1490.1 L1837.8,1492.5 L1839.2,1494.9 L1840.6,1497.3 L1842.0,1499.7 L1843.3,1502.1 L1844.7,1504.5 L1846.1,1506.9 L1847.5,1509.3 L1848.9,1511.7 L1850.3,1514.1 L1851.7,1516.5 L1853.1,1518.9 L1854.5,1521.3 L1855.9,1523.7 L1857.3,1526.1 L1858.8,1528.5 L1860.2,1530.9 L1861.6,1533.2 L1863.0,1535.6 L1864.5,1538.0 L1865.9,1540.3 L1867.4,1542.7 L1868.8,1545.0 L1870.3,1547.4 L1871.8,1549.7 L1873.3,1552.0 L1874.8,1554.4 L1876.3,1556.7 L1877.8,1559.0 L1879.3,1561.3 L1880.8,1563.6 L1882.3,1565.9 L1883.9,1568.2 L1885.4,1570.5 L1887.0,1572.7 L1888.6,1575.0 L1890.2,1577.3 L1891.8,1579.5 L1893.4,1581.7 L1895.0,1584.0 L1896.6,1586.2 L1898.3,1588.4 L1899.9,1590.6 L1901.6,1592.8 L1903.3,1595.0 L1905.0,1597.1 L1906.7,1599.3 L1908.4,1601.4 L1910.1,1603.6 L1911.9,1605.7 L1913.6,1607.8 L1915.4,1609.9 L1917.2,1612.0 L1919.0,1614.1 L1920.8,1616.2 L1922.6,1618.2 L1924.4,1620.3 L1926.3,1622.3 L1928.1,1624.3 L1930.0,1626.3 L1931.9,1628.3 L1933.8,1630.3 L1935.7,1632.3 L1937.6,1634.2 L1939.6,1636.1 L1941.5,1638.1 L1943.5,1640.0 L1945.4,1641.9 L1947.4,1643.8 L1949.4,1645.6 L1951.4,1647.5 L1953.5,1649.3 L1955.5,1651.2 L1957.5,1653.0 L1959.6,1654.8 L1961.7,1656.6 L1963.8,1658.3 L1965.9,1660.1 L1968.0,1661.8 L1970.1,1663.5 L1972.2,1665.2 L1974.4,1666.9 L1976.5,1668.6 L1978.7,1670.2 L1980.9,1671.9 L1983.1,1673.5 L1985.3,1675.1 L1987.5,1676.7 L1989.8,1678.2 L1992.0,1679.8 L1994.3,1681.3 L1996.5,1682.8 L1998.8,1684.3 L2001.1,1685.8 L2003.4,1687.3 L2005.7,1688.7 L2008.1,1690.1 L2010.4,1691.5 L2012.7,1692.9 L2015.1,1694.3 L2017.5,1695.6 L2019.9,1696.9 L2022.3,1698.2 L2024.7,1699.5 L2027.1,1700.8 L2029.6,1702.0 L2032.0,1703.3 L2034.5,1704.5 L2036.9,1705.6 L2039.4,1706.8 L2041.9,1707.9 L2044.4,1709.1 L2046.9,1710.2 L2049.5,1711.2 L2052.0,1712.3 L2054.6,1713.3 L2057.1,1714.3 L2059.7,1715.3 L2062.3,1716.3 L2064.9,1717.2 L2067.5,1718.1 L2070.1,1719.1 L2072.7,1719.9 L2075.3,1720.8 L2078.0,1721.6 L2080.6,1722.5 L2083.3,1723.3 L2085.9,1724.0 L2088.6,1724.8 L2091.3,1725.5 L2094.0,1726.3 L2096.7,1726.9 L2099.4,1727.6 L2102.1,1728.3 L2104.8,1728.9 L2107.5,1729.5 L2110.2,1730.1 L2113.0,1730.7 L2115.7,1731.2 L2118.4,1731.8 L2121.2,1732.3 L2123.9,1732.8 L2126.7,1733.3 L2129.4,1733.7 L2132.2,1734.1 L2135.0,1734.6 L2137.7,1734.9 L2140.5,1735.3 L2143.3,1735.7 L2146.0,1736.0 L2148.8,1736.3 L2151.6,1736.6 L2154.4,1736.9 L2157.1,1737.1 L2159.9,1737.4 L2162.7,1737.6 L2165.5,1737.8 L2168.3,1738.0 L2171.1,1738.1 L2173.8,1738.3 L2176.6,1738.4 L2179.4,1738.5 L2182.2,1738.6 L2185.0,1738.6 L2187.7,1738.7 L2190.5,1738.7 L2193.3,1738.7 L2196.1,1738.7 L2198.8,1738.7 L2201.6,1738.6 L2204.4,1738.5 L2207.1,1738.4 L2209.9,1738.3 L2212.6,1738.2 L2215.4,1738.1 L2218.1,1737.9 L2220.9,1737.7 L2223.6,1737.5 L2226.3,1737.3 L2229.1,1737.1 L2231.8,1736.8 L2234.5,1736.5 L2237.2,1736.2 L2239.9,1735.9 L2242.6,1735.6 L2245.3,1735.3 L2248.0,1734.9 L2250.7,1734.5 L2253.3,1734.2 L2256.0,1733.8 L2258.7,1733.4 L2261.4,1733.0 L2264.0,1732.6 L2266.7,1732.2 L2269.4,1731.8 L2272.0,1731.4 L2274.7,1731.0 L2277.4,1730.6 L2280.0,1730.2 L2282.7,1729.8 L2285.4,1729.4 L2288.1,1729.0 L2290.8,1728.7 L2293.5,1728.3 L2296.2,1728.0 L2298.9,1727.6 L2301.6,1727.3 L2304.3,1727.1 L2307.0,1726.8 L2309.8,1726.6 L2312.5,1726.3 L2315.3,1726.1 L2318.0,1726.0 L2320.8,1725.8 L2323.6,1725.7 L2326.4,1725.6 L2329.2,1725.6 L2332.0,1725.6 L2334.8,1725.6 L2337.7,1725.7 L2340.6,1725.8 L2343.4,1725.9" fill="none" stroke="#000" stroke-width="9.5" stroke-linejoin="round"/>
</g>
<path d="M1092.7,570.7 L964.3,437.3 L976.7,425.4 L896.7,374.7 L944.3,456.6 L956.7,444.6 L1085.1,577.9Z" fill="#A872DE"/>
<path d="M803.7,1225.3 L672.8,1093.3 L685.1,1081.2 L604.3,1031.7 L653.1,1112.9 L665.4,1100.7 L796.3,1232.7Z" fill="#8CC84B"/>
<path d="M1339.1,1146.3 L1518.8,920.4 L1532.3,931.1 L1572.0,845.1 L1497.1,903.1 L1510.6,913.8 L1330.9,1139.7Z" fill="#FF6600"/>
<path d="M1708.0,1318.9 L1843.7,1230.4 L1853.1,1244.9 L1917.9,1175.8 L1828.5,1207.2 L1838.0,1221.6 L1702.2,1310.1Z" fill="#6497CD"/>
<text transform="translate(526.2,201.7) scale(1,1.023)" font-size="115.0" fill="#A872DE" text-anchor="start">Pyrrole N</text>
<text transform="translate(524.6,346.5) scale(1,1.023)" font-size="115.0" fill="#A872DE" text-anchor="start">399.78 eV</text>
<text transform="translate(307.4,862.4) scale(1,1.023)" font-size="115.0" fill="#6AB600" text-anchor="start">Pyridin N</text>
<text transform="translate(308.9,1005.5) scale(1,1.023)" font-size="115.0" fill="#6AB600" text-anchor="start">397.98 eV</text>
<text transform="translate(1296.7,681.0) scale(1,1.023)" font-size="115.0" fill="#FF6600" text-anchor="start">Quaternary N</text>
<text transform="translate(1405.5,826.0) scale(1,1.023)" font-size="115.0" fill="#FF6600" text-anchor="start">401.32 eV</text>
<text transform="translate(1882.8,1030.0) scale(1,1.023)" font-size="115.0" fill="#6497CD" text-anchor="start">N−oxide</text>
<text transform="translate(1848.5,1172.5) scale(1,1.023)" font-size="115.0" fill="#6497CD" text-anchor="start">403.52 eV</text>
<text x="199.0" y="1921.0" font-size="107.0" fill="#000" text-anchor="middle">394</text>
<text x="505.5" y="1921.0" font-size="107.0" fill="#000" text-anchor="middle">396</text>
<text x="812.0" y="1921.0" font-size="107.0" fill="#000" text-anchor="middle">398</text>
<text x="1118.5" y="1921.0" font-size="107.0" fill="#000" text-anchor="middle">400</text>
<text x="1425.1" y="1921.0" font-size="107.0" fill="#000" text-anchor="middle">402</text>
<text x="1731.6" y="1921.0" font-size="107.0" fill="#000" text-anchor="middle">404</text>
<text x="2038.1" y="1921.0" font-size="107.0" fill="#000" text-anchor="middle">406</text>
<text x="2344.6" y="1921.0" font-size="107.0" fill="#000" text-anchor="middle">408</text>
<text x="1269.6" y="2069.8" font-size="114.5" fill="#000" text-anchor="middle">Binding energy (eV)</text>
<text x="0" y="0" font-size="115" fill="#000" text-anchor="middle" transform="translate(118.4,915.5) rotate(-90)">Intensity (a.u.)</text>
</svg></body></html>
